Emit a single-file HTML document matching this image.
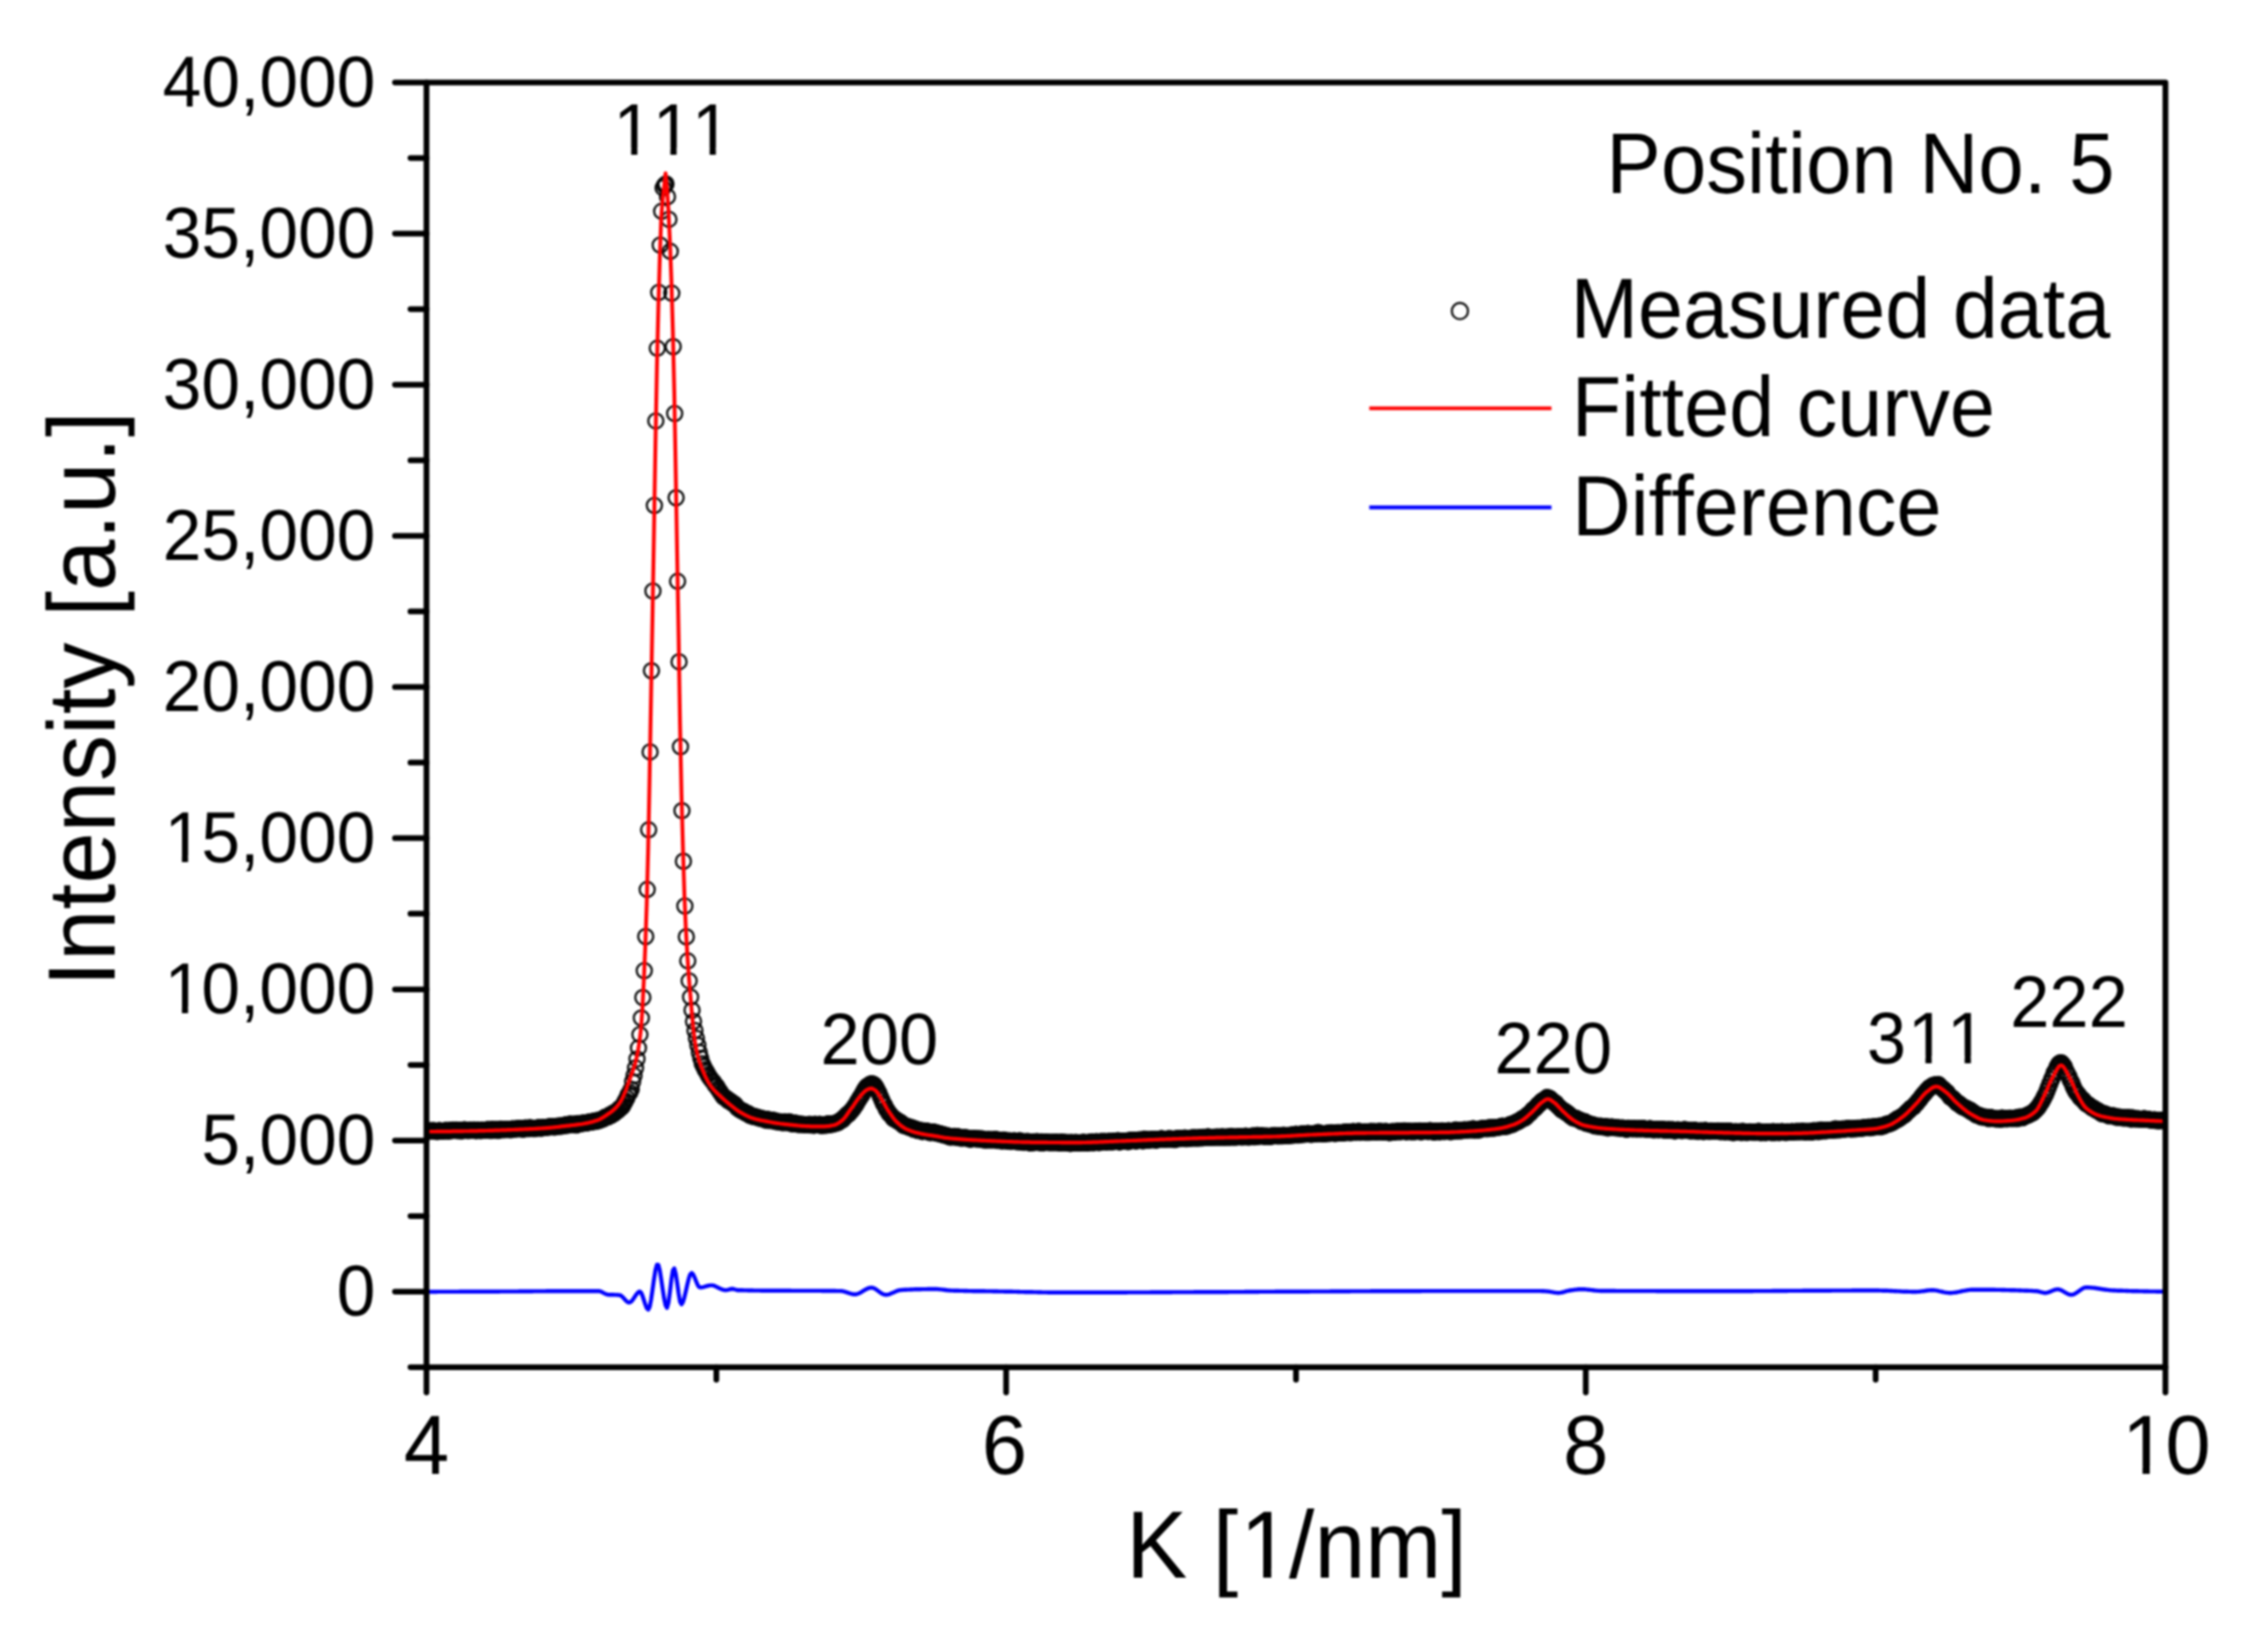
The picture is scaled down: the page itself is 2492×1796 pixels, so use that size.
<!DOCTYPE html>
<html lang="en"><head><meta charset="utf-8"><title>XRD pattern - Position No. 5</title>
<style>html,body{margin:0;padding:0;background:#fff}body{width:2492px;height:1796px;overflow:hidden}svg text{white-space:pre;text-rendering:geometricPrecision;font-kerning:none;font-feature-settings:"kern" 0,"liga" 0}</style>
</head><body>
<svg width="2492" height="1796" viewBox="0 0 2492 1796" style="display:block">
<rect width="2492" height="1796" fill="#fff"/>
<defs><clipPath id="cp"><rect x="468.6" y="90.6" width="1910.7000000000003" height="1411.2"/></clipPath><filter id="soft" x="0" y="0" width="2492" height="1796" filterUnits="userSpaceOnUse" color-interpolation-filters="sRGB"><feGaussianBlur stdDeviation="1"/></filter></defs>
<g filter="url(#soft)">
<rect width="2492" height="1796" fill="#fff"/>
<g clip-path="url(#cp)">
<polyline fill="none" stroke="#000" stroke-width="18.4" stroke-linejoin="round" points="469.1,1242.4 470.6,1242.5 472.2,1242.3 473.8,1242.0 475.4,1242.2 477.0,1242.0 478.6,1242.4 480.2,1242.9 481.8,1242.1 483.4,1242.0 485.0,1242.5 486.6,1242.4 488.2,1242.3 489.7,1241.8 491.3,1242.2 492.9,1242.4 494.5,1241.6 496.1,1241.9 497.7,1241.3 499.3,1241.6 500.9,1241.3 502.5,1241.9 504.1,1241.5 505.7,1242.1 507.3,1242.0 508.9,1241.8 510.4,1240.9 512.0,1241.6 513.6,1241.8 515.2,1241.8 516.8,1241.2 518.4,1241.5 520.0,1241.3 521.6,1241.3 523.2,1242.0 524.8,1241.3 526.4,1241.5 528.0,1241.9 529.6,1241.2 531.1,1241.4 532.7,1241.4 534.3,1241.3 535.9,1240.8 537.5,1241.2 539.1,1241.7 540.7,1240.5 542.3,1241.4 543.9,1241.0 545.5,1240.7 547.1,1241.7 548.7,1241.1 550.3,1240.3 551.8,1240.7 553.4,1240.9 555.0,1240.5 556.6,1240.8 558.2,1240.4 559.8,1240.7 561.4,1240.9 563.0,1240.0 564.6,1240.3 566.2,1240.0 567.8,1240.1 569.4,1239.6 571.0,1239.7 572.5,1239.8 574.1,1240.2 575.7,1240.2 577.3,1239.1 578.9,1239.3 580.5,1239.8 582.1,1238.7 583.7,1239.2 585.3,1239.2 586.9,1239.7 588.5,1239.4 590.1,1238.9 591.7,1238.8 593.2,1238.7 594.8,1239.3 596.4,1238.4 598.0,1238.4 599.6,1238.5 601.2,1238.2 602.8,1238.0 604.4,1237.5 606.0,1237.8 607.6,1237.5 609.2,1238.0 610.8,1237.6 612.4,1237.1 613.9,1237.2 615.5,1236.7 617.1,1237.0 618.7,1236.4 620.3,1236.5 621.9,1235.6 623.5,1236.1 625.1,1235.1 626.7,1234.8 628.3,1235.3 629.9,1234.9 631.5,1235.1 633.1,1235.7 634.6,1234.3 636.2,1234.2 637.8,1234.3 639.4,1234.1 641.0,1233.7 642.6,1233.5 644.2,1233.6 645.8,1233.3 647.4,1232.5 649.0,1232.6 650.6,1232.4 652.2,1231.6 653.8,1231.8 655.3,1230.9 656.9,1231.3 658.5,1230.6 660.1,1230.0 661.7,1229.2 663.3,1228.7 664.9,1227.3 666.5,1226.9 668.1,1226.7 669.7,1224.9 671.3,1225.3 672.9,1223.3 674.5,1223.3 676.0,1221.5 677.6,1220.9 679.2,1219.6 680.8,1217.5 682.4,1216.9 684.0,1215.0"/>
<polyline fill="none" stroke="#000" stroke-width="18.4" stroke-linejoin="round" points="793.9,1203.5 795.5,1205.3 797.1,1205.9 798.6,1207.0 800.2,1209.0 801.8,1209.2 803.4,1210.5 805.0,1212.0 806.6,1212.4 808.2,1214.0"/>
<polyline fill="none" stroke="#000" stroke-width="18.4" stroke-linejoin="round" points="809.8,1216.6 811.4,1217.9 813.0,1218.8 814.6,1219.9 816.2,1220.5 817.8,1221.2 819.3,1222.6 820.9,1223.1 822.5,1223.6 824.1,1225.2 825.7,1225.6 827.3,1226.4 828.9,1226.3 830.5,1226.9 832.1,1227.2 833.7,1227.7 835.3,1228.5 836.9,1228.4 838.5,1229.2 840.0,1229.6 841.6,1230.5 843.2,1229.5 844.8,1230.7 846.4,1230.6 848.0,1230.9 849.6,1230.6 851.2,1231.3 852.8,1232.0 854.4,1231.9 856.0,1232.2 857.6,1232.3 859.2,1233.1 860.7,1232.9 862.3,1232.2 863.9,1233.0 865.5,1232.7 867.1,1232.3 868.7,1233.6 870.3,1234.5 871.9,1234.2 873.5,1233.8 875.1,1234.1 876.7,1235.1 878.3,1234.9 879.9,1235.0 881.4,1235.1 883.0,1235.2 884.6,1235.6 886.2,1235.6 887.8,1235.6 889.4,1235.1 891.0,1235.8 892.6,1235.3 894.2,1236.1 895.8,1235.1 897.4,1235.6 899.0,1235.6 900.5,1235.1 902.1,1236.3 903.7,1236.2 905.3,1235.5 906.9,1236.0 908.5,1235.7 910.1,1234.4 911.7,1235.4 913.3,1235.0 914.9,1234.8 916.5,1234.0 918.1,1233.9 919.7,1233.3 921.2,1232.9 922.8,1231.5 924.4,1230.2 926.0,1229.8 927.6,1227.7 929.2,1226.3"/>
<polyline fill="none" stroke="#000" stroke-width="18.4" stroke-linejoin="round" points="930.8,1224.1 932.4,1223.7 934.0,1221.7 935.6,1220.0 937.2,1218.1"/>
<polyline fill="none" stroke="#000" stroke-width="18.4" stroke-linejoin="round" points="951.5,1194.7 953.1,1193.0 954.7,1192.4 956.3,1190.9 957.9,1190.4 959.5,1191.0 961.1,1192.2"/>
<polyline fill="none" stroke="#000" stroke-width="18.4" stroke-linejoin="round" points="980.2,1226.8 981.8,1228.7 983.3,1229.3 984.9,1230.3 986.5,1231.5 988.1,1232.4 989.7,1233.1 991.3,1234.8 992.9,1236.4 994.5,1236.4 996.1,1237.2 997.7,1237.5 999.3,1238.6 1000.9,1238.5 1002.5,1239.1 1004.0,1240.5 1005.6,1240.0 1007.2,1241.2 1008.8,1241.8 1010.4,1241.6 1012.0,1242.1 1013.6,1242.9 1015.2,1242.3 1016.8,1242.4 1018.4,1242.4 1020.0,1243.2 1021.6,1244.0 1023.2,1244.0 1024.7,1243.5 1026.3,1243.7 1027.9,1244.1 1029.5,1244.7 1031.1,1244.9 1032.7,1245.4 1034.3,1245.9 1035.9,1246.2 1037.5,1246.8 1039.1,1247.3 1040.7,1247.6 1042.3,1248.2 1043.9,1249.0 1045.4,1248.7 1047.0,1248.7 1048.6,1248.2 1050.2,1249.2 1051.8,1248.5 1053.4,1248.9 1055.0,1249.9 1056.6,1250.0 1058.2,1249.9 1059.8,1249.4 1061.4,1250.1 1063.0,1250.1 1064.6,1250.7 1066.1,1251.5 1067.7,1250.8 1069.3,1250.5 1070.9,1250.5 1072.5,1251.0 1074.1,1251.1 1075.7,1250.8 1077.3,1251.4 1078.9,1251.0 1080.5,1252.0 1082.1,1252.1 1083.7,1252.2 1085.3,1251.7 1086.8,1252.1 1088.4,1252.0 1090.0,1252.0 1091.6,1252.1 1093.2,1251.8 1094.8,1251.8 1096.4,1252.8 1098.0,1252.5 1099.6,1252.8 1101.2,1253.2 1102.8,1252.2 1104.4,1252.7 1106.0,1253.2 1107.5,1253.3 1109.1,1253.1 1110.7,1253.8 1112.3,1253.5 1113.9,1253.1 1115.5,1253.3 1117.1,1254.0 1118.7,1254.0 1120.3,1253.1 1121.9,1254.5 1123.5,1254.3 1125.1,1254.7 1126.6,1254.1 1128.2,1254.2 1129.8,1253.9 1131.4,1255.4 1133.0,1254.4 1134.6,1255.2 1136.2,1254.3 1137.8,1254.7 1139.4,1254.0 1141.0,1254.6 1142.6,1255.2 1144.2,1254.3 1145.8,1255.3 1147.3,1255.0 1148.9,1254.5 1150.5,1254.8 1152.1,1254.8 1153.7,1255.0 1155.3,1254.9 1156.9,1254.8 1158.5,1255.0 1160.1,1254.8 1161.7,1254.7 1163.3,1255.2 1164.9,1255.6 1166.5,1254.6 1168.0,1255.3 1169.6,1255.0 1171.2,1254.9 1172.8,1255.6 1174.4,1255.1 1176.0,1255.9 1177.6,1255.0 1179.2,1255.4 1180.8,1255.2 1182.4,1255.0 1184.0,1255.5 1185.6,1255.2 1187.2,1255.5 1188.7,1255.2 1190.3,1254.8 1191.9,1255.2 1193.5,1255.2 1195.1,1255.5 1196.7,1254.7 1198.3,1255.0 1199.9,1254.3 1201.5,1255.2 1203.1,1254.4 1204.7,1254.1 1206.3,1254.7 1207.9,1255.1 1209.4,1254.0 1211.0,1254.1 1212.6,1254.1 1214.2,1253.9 1215.8,1254.4 1217.4,1253.9 1219.0,1253.8 1220.6,1254.3 1222.2,1253.7 1223.8,1254.1 1225.4,1253.4 1227.0,1253.3 1228.6,1252.9 1230.1,1254.4 1231.7,1253.4 1233.3,1253.6 1234.9,1253.4 1236.5,1253.4 1238.1,1253.3 1239.7,1254.0 1241.3,1252.7 1242.9,1252.5 1244.5,1252.6 1246.1,1252.4 1247.7,1253.2 1249.3,1253.1 1250.8,1252.3 1252.4,1252.1 1254.0,1252.4 1255.6,1253.1 1257.2,1251.3 1258.8,1252.6 1260.4,1251.8 1262.0,1252.6 1263.6,1251.7 1265.2,1252.0 1266.8,1251.4 1268.4,1251.5 1270.0,1252.4 1271.5,1252.1 1273.1,1251.6 1274.7,1251.3 1276.3,1250.8 1277.9,1251.4 1279.5,1251.4 1281.1,1251.4 1282.7,1251.3 1284.3,1250.8 1285.9,1251.2 1287.5,1251.1 1289.1,1251.6 1290.7,1251.7 1292.2,1250.9 1293.8,1250.6 1295.4,1250.8 1297.0,1250.5 1298.6,1250.4 1300.2,1250.6 1301.8,1250.1 1303.4,1250.7 1305.0,1250.4 1306.6,1250.5 1308.2,1250.2 1309.8,1250.0 1311.4,1249.8 1312.9,1250.0 1314.5,1249.9 1316.1,1250.1 1317.7,1250.0 1319.3,1249.4 1320.9,1249.9 1322.5,1249.3 1324.1,1249.5 1325.7,1249.6 1327.3,1248.8 1328.9,1249.6 1330.5,1249.6 1332.0,1249.4 1333.6,1249.3 1335.2,1249.3 1336.8,1249.0 1338.4,1249.2 1340.0,1249.1 1341.6,1249.3 1343.2,1248.7 1344.8,1249.2 1346.4,1249.2 1348.0,1249.0 1349.6,1248.9 1351.2,1249.2 1352.7,1248.3 1354.3,1249.1 1355.9,1249.0 1357.5,1248.9 1359.1,1248.9 1360.7,1248.5 1362.3,1248.6 1363.9,1248.9 1365.5,1248.8 1367.1,1248.7 1368.7,1247.9 1370.3,1248.7 1371.9,1248.9 1373.4,1248.8 1375.0,1248.5 1376.6,1247.7 1378.2,1248.7 1379.8,1248.2 1381.4,1247.2 1383.0,1248.3 1384.6,1247.6 1386.2,1247.6 1387.8,1247.8 1389.4,1248.6 1391.0,1247.9 1392.6,1248.1 1394.1,1248.6 1395.7,1248.5 1397.3,1247.8 1398.9,1247.7 1400.5,1247.2 1402.1,1247.4 1403.7,1247.8 1405.3,1247.7 1406.9,1247.6 1408.5,1247.8 1410.1,1247.1 1411.7,1247.3 1413.3,1247.5 1414.8,1247.3 1416.4,1247.4 1418.0,1247.1 1419.6,1246.7 1421.2,1246.9 1422.8,1246.2 1424.4,1245.9 1426.0,1246.7 1427.6,1246.3 1429.2,1246.4 1430.8,1245.5 1432.4,1245.9 1434.0,1245.7 1435.5,1245.5 1437.1,1244.9 1438.7,1245.5 1440.3,1246.0 1441.9,1245.7 1443.5,1245.2 1445.1,1245.3 1446.7,1245.6 1448.3,1244.1 1449.9,1245.1 1451.5,1245.3 1453.1,1245.3 1454.7,1245.6 1456.2,1245.3 1457.8,1244.9 1459.4,1244.8 1461.0,1244.9 1462.6,1244.3 1464.2,1244.5 1465.8,1244.8 1467.4,1245.1 1469.0,1244.2 1470.6,1244.2 1472.2,1244.2 1473.8,1244.6 1475.4,1244.0 1476.9,1244.5 1478.5,1243.5 1480.1,1243.7 1481.7,1243.7 1483.3,1244.0 1484.9,1244.1 1486.5,1243.0 1488.1,1243.2 1489.7,1243.7 1491.3,1243.2 1492.9,1242.8 1494.5,1243.8 1496.1,1243.6 1497.6,1243.6 1499.2,1243.2 1500.8,1243.7 1502.4,1243.2 1504.0,1243.7 1505.6,1242.9 1507.2,1242.9 1508.8,1243.3 1510.4,1242.9 1512.0,1243.5 1513.6,1243.3 1515.2,1242.8 1516.8,1243.2 1518.3,1243.0 1519.9,1243.5 1521.5,1242.9 1523.1,1242.9 1524.7,1243.6 1526.3,1244.0 1527.9,1243.9 1529.5,1243.1 1531.1,1243.1 1532.7,1243.6 1534.3,1242.9 1535.9,1242.6 1537.4,1243.0 1539.0,1243.1 1540.6,1242.6 1542.2,1242.3 1543.8,1242.3 1545.4,1243.2 1547.0,1242.6 1548.6,1242.8 1550.2,1242.9 1551.8,1243.1 1553.4,1242.7 1555.0,1243.0 1556.6,1242.4 1558.1,1242.6 1559.7,1242.3 1561.3,1243.2 1562.9,1242.7 1564.5,1242.4 1566.1,1242.5 1567.7,1242.6 1569.3,1242.9 1570.9,1242.0 1572.5,1242.2 1574.1,1242.4 1575.7,1243.6 1577.3,1242.9 1578.8,1242.5 1580.4,1242.8 1582.0,1243.3 1583.6,1242.3 1585.2,1242.3 1586.8,1242.9 1588.4,1242.5 1590.0,1242.6 1591.6,1242.1 1593.2,1243.0 1594.8,1242.9 1596.4,1242.4 1598.0,1242.4 1599.5,1241.2 1601.1,1242.2 1602.7,1241.8 1604.3,1242.0 1605.9,1242.0 1607.5,1241.5 1609.1,1240.9 1610.7,1241.6 1612.3,1241.1 1613.9,1241.1 1615.5,1240.9 1617.1,1240.9 1618.7,1240.0 1620.2,1241.4 1621.8,1240.9 1623.4,1241.1 1625.0,1241.3 1626.6,1240.4 1628.2,1239.6 1629.8,1239.8 1631.4,1239.5 1633.0,1239.7 1634.6,1239.8 1636.2,1238.8 1637.8,1239.5 1639.4,1238.6 1640.9,1239.2 1642.5,1238.8 1644.1,1238.5 1645.7,1238.4 1647.3,1238.0 1648.9,1237.7 1650.5,1236.9 1652.1,1237.3 1653.7,1237.6 1655.3,1237.3 1656.9,1236.6 1658.5,1235.9 1660.1,1234.9 1661.6,1235.2 1663.2,1234.1 1664.8,1233.4 1666.4,1232.6 1668.0,1232.0 1669.6,1230.9 1671.2,1230.1 1672.8,1228.8 1674.4,1228.0 1676.0,1227.9"/>
<polyline fill="none" stroke="#000" stroke-width="18.4" stroke-linejoin="round" points="1677.6,1225.7 1679.2,1224.2 1680.8,1223.1 1682.3,1221.6"/>
<polyline fill="none" stroke="#000" stroke-width="18.4" stroke-linejoin="round" points="1683.9,1219.4 1685.5,1218.3 1687.1,1217.1 1688.7,1215.1 1690.3,1213.3 1691.9,1212.3"/>
<polyline fill="none" stroke="#000" stroke-width="18.4" stroke-linejoin="round" points="1693.5,1210.1 1695.1,1209.3 1696.7,1207.9 1698.3,1207.7 1699.9,1205.6 1701.5,1206.0 1703.0,1206.7 1704.6,1208.3 1706.2,1209.7 1707.8,1211.6 1709.4,1211.8"/>
<polyline fill="none" stroke="#000" stroke-width="18.4" stroke-linejoin="round" points="1711.0,1214.4 1712.6,1215.7 1714.2,1217.2 1715.8,1219.1 1717.4,1219.8 1719.0,1220.4 1720.6,1222.1 1722.2,1222.7 1723.7,1224.1 1725.3,1225.6 1726.9,1226.6 1728.5,1228.1 1730.1,1228.1 1731.7,1228.4 1733.3,1229.4 1734.9,1230.1 1736.5,1230.7 1738.1,1232.0 1739.7,1232.1 1741.3,1232.1 1742.9,1233.7 1744.4,1233.9 1746.0,1234.5 1747.6,1234.9 1749.2,1235.5 1750.8,1235.7 1752.4,1236.7 1754.0,1236.7 1755.6,1237.1 1757.2,1237.4 1758.8,1236.9 1760.4,1237.7 1762.0,1237.8 1763.5,1238.1 1765.1,1237.6 1766.7,1239.0 1768.3,1238.5 1769.9,1238.1 1771.5,1238.0 1773.1,1238.6 1774.7,1238.8 1776.3,1238.7 1777.9,1239.1 1779.5,1238.9 1781.1,1239.4 1782.7,1239.0 1784.2,1239.4 1785.8,1239.9 1787.4,1240.6 1789.0,1239.2 1790.6,1239.5 1792.2,1239.4 1793.8,1240.1 1795.4,1239.4 1797.0,1239.8 1798.6,1240.0 1800.2,1239.7 1801.8,1239.8 1803.4,1240.0 1804.9,1239.4 1806.5,1239.7 1808.1,1240.2 1809.7,1240.5 1811.3,1240.4 1812.9,1239.8 1814.5,1240.4 1816.1,1240.9 1817.7,1240.9 1819.3,1240.7 1820.9,1240.4 1822.5,1241.0 1824.1,1240.6 1825.6,1240.4 1827.2,1240.6 1828.8,1241.5 1830.4,1241.0 1832.0,1241.5 1833.6,1240.8 1835.2,1241.4 1836.8,1240.9 1838.4,1241.1 1840.0,1242.2 1841.6,1241.5 1843.2,1241.1 1844.8,1241.3 1846.3,1241.5 1847.9,1241.9 1849.5,1241.2 1851.1,1240.8 1852.7,1241.4 1854.3,1241.6 1855.9,1241.7 1857.5,1242.2 1859.1,1241.8 1860.7,1242.1 1862.3,1241.4 1863.9,1242.2 1865.5,1242.8 1867.0,1242.3 1868.6,1242.1 1870.2,1242.2 1871.8,1242.9 1873.4,1241.8 1875.0,1242.2 1876.6,1242.5 1878.2,1242.7 1879.8,1242.3 1881.4,1242.6 1883.0,1242.4 1884.6,1242.6 1886.2,1242.6 1887.7,1242.2 1889.3,1242.7 1890.9,1243.1 1892.5,1242.4 1894.1,1242.8 1895.7,1243.2 1897.3,1242.5 1898.9,1243.1 1900.5,1242.6 1902.1,1243.5 1903.7,1244.0 1905.3,1243.9 1906.9,1243.1 1908.4,1243.5 1910.0,1243.3 1911.6,1243.3 1913.2,1243.9 1914.8,1242.8 1916.4,1243.8 1918.0,1243.4 1919.6,1244.0 1921.2,1243.5 1922.8,1243.2 1924.4,1243.6 1926.0,1243.8 1927.6,1243.6 1929.1,1243.8 1930.7,1243.4 1932.3,1242.8 1933.9,1244.0 1935.5,1243.9 1937.1,1243.7 1938.7,1243.7 1940.3,1244.1 1941.9,1243.5 1943.5,1243.4 1945.1,1243.6 1946.7,1244.1 1948.3,1243.1 1949.8,1244.1 1951.4,1243.4 1953.0,1243.2 1954.6,1244.1 1956.2,1243.5 1957.8,1243.0 1959.4,1243.4 1961.0,1243.8 1962.6,1243.9 1964.2,1243.2 1965.8,1243.5 1967.4,1243.6 1968.9,1243.0 1970.5,1243.4 1972.1,1243.2 1973.7,1243.0 1975.3,1243.0 1976.9,1243.1 1978.5,1243.1 1980.1,1242.8 1981.7,1242.8 1983.3,1243.4 1984.9,1242.9 1986.5,1243.1 1988.1,1243.2 1989.6,1242.8 1991.2,1243.4 1992.8,1242.1 1994.4,1242.7 1996.0,1242.1 1997.6,1242.9 1999.2,1242.7 2000.8,1241.2 2002.4,1241.5 2004.0,1242.0 2005.6,1242.0 2007.2,1241.8 2008.8,1241.4 2010.3,1241.5 2011.9,1241.5 2013.5,1241.1 2015.1,1241.5 2016.7,1240.1 2018.3,1241.1 2019.9,1240.3 2021.5,1241.0 2023.1,1240.5 2024.7,1240.1 2026.3,1240.5 2027.9,1239.9 2029.5,1239.8 2031.0,1239.4 2032.6,1239.9 2034.2,1240.0 2035.8,1240.1 2037.4,1239.5 2039.0,1239.9 2040.6,1239.3 2042.2,1239.2 2043.8,1239.3 2045.4,1239.4 2047.0,1238.8 2048.6,1238.7 2050.2,1238.6 2051.7,1238.6 2053.3,1238.1 2054.9,1238.8 2056.5,1238.0 2058.1,1238.2 2059.7,1237.6 2061.3,1237.8 2062.9,1237.6 2064.5,1237.0 2066.1,1237.7 2067.7,1236.7 2069.3,1236.9 2070.9,1236.2 2072.4,1235.1 2074.0,1234.8 2075.6,1234.6 2077.2,1233.9 2078.8,1233.2 2080.4,1232.3 2082.0,1230.9 2083.6,1230.6 2085.2,1228.8 2086.8,1228.8 2088.4,1227.3 2090.0,1226.3 2091.6,1225.3 2093.1,1224.3 2094.7,1222.3 2096.3,1220.7 2097.9,1219.5 2099.5,1217.5 2101.1,1216.4 2102.7,1215.8"/>
<polyline fill="none" stroke="#000" stroke-width="18.4" stroke-linejoin="round" points="2110.7,1205.7 2112.3,1203.6 2113.8,1201.8 2115.4,1200.3"/>
<polyline fill="none" stroke="#000" stroke-width="18.4" stroke-linejoin="round" points="2117.0,1198.0 2118.6,1196.6 2120.2,1194.7 2121.8,1194.0 2123.4,1192.6 2125.0,1192.2 2126.6,1191.5 2128.2,1192.2 2129.8,1191.3 2131.4,1193.0 2133.0,1194.8 2134.5,1195.8 2136.1,1197.2 2137.7,1198.9 2139.3,1199.9 2140.9,1202.1"/>
<polyline fill="none" stroke="#000" stroke-width="18.4" stroke-linejoin="round" points="2142.5,1204.7 2144.1,1205.8 2145.7,1206.6 2147.3,1208.2 2148.9,1209.9 2150.5,1211.7 2152.1,1212.1 2153.7,1213.3 2155.2,1215.0 2156.8,1216.0 2158.4,1216.6 2160.0,1217.3 2161.6,1218.0 2163.2,1219.3 2164.8,1219.5 2166.4,1221.5 2168.0,1221.8 2169.6,1223.1 2171.2,1224.6 2172.8,1225.1 2174.3,1224.9 2175.9,1226.4 2177.5,1227.1 2179.1,1226.8 2180.7,1227.0 2182.3,1227.6 2183.9,1227.3 2185.5,1228.7 2187.1,1227.4 2188.7,1228.1 2190.3,1228.6 2191.9,1228.8 2193.5,1229.0 2195.0,1229.1 2196.6,1228.9 2198.2,1229.5 2199.8,1228.1 2201.4,1228.9 2203.0,1228.6 2204.6,1228.9 2206.2,1228.8 2207.8,1228.3 2209.4,1228.3 2211.0,1228.8 2212.6,1228.5 2214.2,1227.9 2215.7,1228.8 2217.3,1228.6 2218.9,1226.9 2220.5,1227.3 2222.1,1227.8 2223.7,1226.7 2225.3,1226.1 2226.9,1225.4 2228.5,1224.7 2230.1,1224.0 2231.7,1223.0 2233.3,1222.5 2234.9,1220.9 2236.4,1219.6 2238.0,1217.8 2239.6,1216.3"/>
<polyline fill="none" stroke="#000" stroke-width="18.4" stroke-linejoin="round" points="2261.9,1168.9 2263.5,1167.6 2265.1,1167.6 2266.7,1169.4"/>
<polyline fill="none" stroke="#000" stroke-width="18.4" stroke-linejoin="round" points="2285.8,1205.9 2287.4,1207.0 2289.0,1208.5 2290.6,1210.4 2292.2,1212.4 2293.8,1213.3 2295.4,1214.1 2297.0,1215.4 2298.5,1216.7 2300.1,1217.3 2301.7,1218.2 2303.3,1219.6 2304.9,1220.0 2306.5,1221.2 2308.1,1222.0 2309.7,1223.5 2311.3,1222.9 2312.9,1223.7 2314.5,1224.3 2316.1,1225.0 2317.7,1225.8 2319.2,1225.6 2320.8,1225.8 2322.4,1225.8 2324.0,1226.4 2325.6,1227.2 2327.2,1227.2 2328.8,1227.0 2330.4,1227.4 2332.0,1227.8 2333.6,1228.1 2335.2,1227.8 2336.8,1228.1 2338.4,1227.6 2339.9,1228.0 2341.5,1229.3 2343.1,1227.9 2344.7,1228.7 2346.3,1229.1 2347.9,1228.9 2349.5,1228.9 2351.1,1229.3 2352.7,1229.4 2354.3,1229.5 2355.9,1228.8 2357.5,1229.6 2359.1,1229.4 2360.6,1229.6 2362.2,1230.1 2363.8,1230.3 2365.4,1230.5 2367.0,1230.0 2368.6,1230.7 2370.2,1230.9 2371.8,1230.9 2373.4,1231.1 2375.0,1230.5 2376.6,1230.6 2378.2,1231.1 2379.8,1230.3"/>
<g fill="none" stroke="#050505" stroke-width="2.4">
<circle cx="469.1" cy="1242.4" r="8.3"/>
<circle cx="470.6" cy="1242.5" r="8.3"/>
<circle cx="472.2" cy="1242.3" r="8.3"/>
<circle cx="473.8" cy="1242.0" r="8.3"/>
<circle cx="475.4" cy="1242.2" r="8.3"/>
<circle cx="477.0" cy="1242.0" r="8.3"/>
<circle cx="478.6" cy="1242.4" r="8.3"/>
<circle cx="480.2" cy="1242.9" r="8.3"/>
<circle cx="481.8" cy="1242.1" r="8.3"/>
<circle cx="483.4" cy="1242.0" r="8.3"/>
<circle cx="485.0" cy="1242.5" r="8.3"/>
<circle cx="486.6" cy="1242.4" r="8.3"/>
<circle cx="488.2" cy="1242.3" r="8.3"/>
<circle cx="489.7" cy="1241.8" r="8.3"/>
<circle cx="491.3" cy="1242.2" r="8.3"/>
<circle cx="492.9" cy="1242.4" r="8.3"/>
<circle cx="494.5" cy="1241.6" r="8.3"/>
<circle cx="496.1" cy="1241.9" r="8.3"/>
<circle cx="497.7" cy="1241.3" r="8.3"/>
<circle cx="499.3" cy="1241.6" r="8.3"/>
<circle cx="500.9" cy="1241.3" r="8.3"/>
<circle cx="502.5" cy="1241.9" r="8.3"/>
<circle cx="504.1" cy="1241.5" r="8.3"/>
<circle cx="505.7" cy="1242.1" r="8.3"/>
<circle cx="507.3" cy="1242.0" r="8.3"/>
<circle cx="508.9" cy="1241.8" r="8.3"/>
<circle cx="510.4" cy="1240.9" r="8.3"/>
<circle cx="512.0" cy="1241.6" r="8.3"/>
<circle cx="513.6" cy="1241.8" r="8.3"/>
<circle cx="515.2" cy="1241.8" r="8.3"/>
<circle cx="516.8" cy="1241.2" r="8.3"/>
<circle cx="518.4" cy="1241.5" r="8.3"/>
<circle cx="520.0" cy="1241.3" r="8.3"/>
<circle cx="521.6" cy="1241.3" r="8.3"/>
<circle cx="523.2" cy="1242.0" r="8.3"/>
<circle cx="524.8" cy="1241.3" r="8.3"/>
<circle cx="526.4" cy="1241.5" r="8.3"/>
<circle cx="528.0" cy="1241.9" r="8.3"/>
<circle cx="529.6" cy="1241.2" r="8.3"/>
<circle cx="531.1" cy="1241.4" r="8.3"/>
<circle cx="532.7" cy="1241.4" r="8.3"/>
<circle cx="534.3" cy="1241.3" r="8.3"/>
<circle cx="535.9" cy="1240.8" r="8.3"/>
<circle cx="537.5" cy="1241.2" r="8.3"/>
<circle cx="539.1" cy="1241.7" r="8.3"/>
<circle cx="540.7" cy="1240.5" r="8.3"/>
<circle cx="542.3" cy="1241.4" r="8.3"/>
<circle cx="543.9" cy="1241.0" r="8.3"/>
<circle cx="545.5" cy="1240.7" r="8.3"/>
<circle cx="547.1" cy="1241.7" r="8.3"/>
<circle cx="548.7" cy="1241.1" r="8.3"/>
<circle cx="550.3" cy="1240.3" r="8.3"/>
<circle cx="551.8" cy="1240.7" r="8.3"/>
<circle cx="553.4" cy="1240.9" r="8.3"/>
<circle cx="555.0" cy="1240.5" r="8.3"/>
<circle cx="556.6" cy="1240.8" r="8.3"/>
<circle cx="558.2" cy="1240.4" r="8.3"/>
<circle cx="559.8" cy="1240.7" r="8.3"/>
<circle cx="561.4" cy="1240.9" r="8.3"/>
<circle cx="563.0" cy="1240.0" r="8.3"/>
<circle cx="564.6" cy="1240.3" r="8.3"/>
<circle cx="566.2" cy="1240.0" r="8.3"/>
<circle cx="567.8" cy="1240.1" r="8.3"/>
<circle cx="569.4" cy="1239.6" r="8.3"/>
<circle cx="571.0" cy="1239.7" r="8.3"/>
<circle cx="572.5" cy="1239.8" r="8.3"/>
<circle cx="574.1" cy="1240.2" r="8.3"/>
<circle cx="575.7" cy="1240.2" r="8.3"/>
<circle cx="577.3" cy="1239.1" r="8.3"/>
<circle cx="578.9" cy="1239.3" r="8.3"/>
<circle cx="580.5" cy="1239.8" r="8.3"/>
<circle cx="582.1" cy="1238.7" r="8.3"/>
<circle cx="583.7" cy="1239.2" r="8.3"/>
<circle cx="585.3" cy="1239.2" r="8.3"/>
<circle cx="586.9" cy="1239.7" r="8.3"/>
<circle cx="588.5" cy="1239.4" r="8.3"/>
<circle cx="590.1" cy="1238.9" r="8.3"/>
<circle cx="591.7" cy="1238.8" r="8.3"/>
<circle cx="593.2" cy="1238.7" r="8.3"/>
<circle cx="594.8" cy="1239.3" r="8.3"/>
<circle cx="596.4" cy="1238.4" r="8.3"/>
<circle cx="598.0" cy="1238.4" r="8.3"/>
<circle cx="599.6" cy="1238.5" r="8.3"/>
<circle cx="601.2" cy="1238.2" r="8.3"/>
<circle cx="602.8" cy="1238.0" r="8.3"/>
<circle cx="604.4" cy="1237.5" r="8.3"/>
<circle cx="606.0" cy="1237.8" r="8.3"/>
<circle cx="607.6" cy="1237.5" r="8.3"/>
<circle cx="609.2" cy="1238.0" r="8.3"/>
<circle cx="610.8" cy="1237.6" r="8.3"/>
<circle cx="612.4" cy="1237.1" r="8.3"/>
<circle cx="613.9" cy="1237.2" r="8.3"/>
<circle cx="615.5" cy="1236.7" r="8.3"/>
<circle cx="617.1" cy="1237.0" r="8.3"/>
<circle cx="618.7" cy="1236.4" r="8.3"/>
<circle cx="620.3" cy="1236.5" r="8.3"/>
<circle cx="621.9" cy="1235.6" r="8.3"/>
<circle cx="623.5" cy="1236.1" r="8.3"/>
<circle cx="625.1" cy="1235.1" r="8.3"/>
<circle cx="626.7" cy="1234.8" r="8.3"/>
<circle cx="628.3" cy="1235.3" r="8.3"/>
<circle cx="629.9" cy="1234.9" r="8.3"/>
<circle cx="631.5" cy="1235.1" r="8.3"/>
<circle cx="633.1" cy="1235.7" r="8.3"/>
<circle cx="634.6" cy="1234.3" r="8.3"/>
<circle cx="636.2" cy="1234.2" r="8.3"/>
<circle cx="637.8" cy="1234.3" r="8.3"/>
<circle cx="639.4" cy="1234.1" r="8.3"/>
<circle cx="641.0" cy="1233.7" r="8.3"/>
<circle cx="642.6" cy="1233.5" r="8.3"/>
<circle cx="644.2" cy="1233.6" r="8.3"/>
<circle cx="645.8" cy="1233.3" r="8.3"/>
<circle cx="647.4" cy="1232.5" r="8.3"/>
<circle cx="649.0" cy="1232.6" r="8.3"/>
<circle cx="650.6" cy="1232.4" r="8.3"/>
<circle cx="652.2" cy="1231.6" r="8.3"/>
<circle cx="653.8" cy="1231.8" r="8.3"/>
<circle cx="655.3" cy="1230.9" r="8.3"/>
<circle cx="656.9" cy="1231.3" r="8.3"/>
<circle cx="658.5" cy="1230.6" r="8.3"/>
<circle cx="660.1" cy="1230.0" r="8.3"/>
<circle cx="661.7" cy="1229.2" r="8.3"/>
<circle cx="663.3" cy="1228.7" r="8.3"/>
<circle cx="664.9" cy="1227.3" r="8.3"/>
<circle cx="666.5" cy="1226.9" r="8.3"/>
<circle cx="668.1" cy="1226.7" r="8.3"/>
<circle cx="669.7" cy="1224.9" r="8.3"/>
<circle cx="671.3" cy="1225.3" r="8.3"/>
<circle cx="672.9" cy="1223.3" r="8.3"/>
<circle cx="674.5" cy="1223.3" r="8.3"/>
<circle cx="676.0" cy="1221.5" r="8.3"/>
<circle cx="677.6" cy="1220.9" r="8.3"/>
<circle cx="679.2" cy="1219.6" r="8.3"/>
<circle cx="680.8" cy="1217.5" r="8.3"/>
<circle cx="682.4" cy="1216.9" r="8.3"/>
<circle cx="684.0" cy="1215.0" r="8.3"/>
<circle cx="685.6" cy="1212.0" r="8.3"/>
<circle cx="687.2" cy="1209.0" r="8.3"/>
<circle cx="688.8" cy="1206.0" r="8.3"/>
<circle cx="690.4" cy="1202.1" r="8.3"/>
<circle cx="692.0" cy="1199.9" r="8.3"/>
<circle cx="693.6" cy="1196.5" r="8.3"/>
<circle cx="695.1" cy="1188.3" r="8.3"/>
<circle cx="696.7" cy="1181.4" r="8.3"/>
<circle cx="698.3" cy="1173.1" r="8.3"/>
<circle cx="699.9" cy="1163.3" r="8.3"/>
<circle cx="701.5" cy="1151.1" r="8.3"/>
<circle cx="703.1" cy="1136.4" r="8.3"/>
<circle cx="704.7" cy="1118.3" r="8.3"/>
<circle cx="706.3" cy="1095.8" r="8.3"/>
<circle cx="707.9" cy="1066.2" r="8.3"/>
<circle cx="709.5" cy="1028.8" r="8.3"/>
<circle cx="711.1" cy="977.1" r="8.3"/>
<circle cx="712.7" cy="911.6" r="8.3"/>
<circle cx="714.3" cy="825.9" r="8.3"/>
<circle cx="715.8" cy="736.8" r="8.3"/>
<circle cx="717.4" cy="649.2" r="8.3"/>
<circle cx="719.0" cy="555.2" r="8.3"/>
<circle cx="720.6" cy="462.4" r="8.3"/>
<circle cx="722.2" cy="382.6" r="8.3"/>
<circle cx="723.8" cy="321.2" r="8.3"/>
<circle cx="725.4" cy="269.2" r="8.3"/>
<circle cx="727.0" cy="232.1" r="8.3"/>
<circle cx="728.6" cy="206.4" r="8.3"/>
<circle cx="730.2" cy="203.5" r="8.3"/>
<circle cx="731.8" cy="202.0" r="8.3"/>
<circle cx="733.4" cy="216.0" r="8.3"/>
<circle cx="735.0" cy="240.9" r="8.3"/>
<circle cx="736.5" cy="276.1" r="8.3"/>
<circle cx="738.1" cy="322.1" r="8.3"/>
<circle cx="739.7" cy="380.8" r="8.3"/>
<circle cx="741.3" cy="454.2" r="8.3"/>
<circle cx="742.9" cy="546.8" r="8.3"/>
<circle cx="744.5" cy="638.6" r="8.3"/>
<circle cx="746.1" cy="726.9" r="8.3"/>
<circle cx="747.7" cy="820.2" r="8.3"/>
<circle cx="749.3" cy="890.5" r="8.3"/>
<circle cx="750.9" cy="946.0" r="8.3"/>
<circle cx="752.5" cy="995.2" r="8.3"/>
<circle cx="754.1" cy="1029.0" r="8.3"/>
<circle cx="755.7" cy="1055.6" r="8.3"/>
<circle cx="757.2" cy="1077.4" r="8.3"/>
<circle cx="758.8" cy="1095.3" r="8.3"/>
<circle cx="760.4" cy="1109.7" r="8.3"/>
<circle cx="762.0" cy="1122.0" r="8.3"/>
<circle cx="763.6" cy="1132.0" r="8.3"/>
<circle cx="765.2" cy="1140.6" r="8.3"/>
<circle cx="766.8" cy="1148.3" r="8.3"/>
<circle cx="768.4" cy="1156.0" r="8.3"/>
<circle cx="770.0" cy="1162.6" r="8.3"/>
<circle cx="771.6" cy="1168.5" r="8.3"/>
<circle cx="773.2" cy="1171.7" r="8.3"/>
<circle cx="774.8" cy="1175.0" r="8.3"/>
<circle cx="776.4" cy="1177.5" r="8.3"/>
<circle cx="777.9" cy="1180.5" r="8.3"/>
<circle cx="779.5" cy="1183.0" r="8.3"/>
<circle cx="781.1" cy="1185.3" r="8.3"/>
<circle cx="782.7" cy="1187.4" r="8.3"/>
<circle cx="784.3" cy="1189.0" r="8.3"/>
<circle cx="785.9" cy="1192.1" r="8.3"/>
<circle cx="787.5" cy="1193.2" r="8.3"/>
<circle cx="789.1" cy="1196.4" r="8.3"/>
<circle cx="790.7" cy="1198.5" r="8.3"/>
<circle cx="792.3" cy="1200.9" r="8.3"/>
<circle cx="793.9" cy="1203.5" r="8.3"/>
<circle cx="795.5" cy="1205.3" r="8.3"/>
<circle cx="797.1" cy="1205.9" r="8.3"/>
<circle cx="798.6" cy="1207.0" r="8.3"/>
<circle cx="800.2" cy="1209.0" r="8.3"/>
<circle cx="801.8" cy="1209.2" r="8.3"/>
<circle cx="803.4" cy="1210.5" r="8.3"/>
<circle cx="805.0" cy="1212.0" r="8.3"/>
<circle cx="806.6" cy="1212.4" r="8.3"/>
<circle cx="808.2" cy="1214.0" r="8.3"/>
<circle cx="809.8" cy="1216.6" r="8.3"/>
<circle cx="811.4" cy="1217.9" r="8.3"/>
<circle cx="813.0" cy="1218.8" r="8.3"/>
<circle cx="814.6" cy="1219.9" r="8.3"/>
<circle cx="816.2" cy="1220.5" r="8.3"/>
<circle cx="817.8" cy="1221.2" r="8.3"/>
<circle cx="819.3" cy="1222.6" r="8.3"/>
<circle cx="820.9" cy="1223.1" r="8.3"/>
<circle cx="822.5" cy="1223.6" r="8.3"/>
<circle cx="824.1" cy="1225.2" r="8.3"/>
<circle cx="825.7" cy="1225.6" r="8.3"/>
<circle cx="827.3" cy="1226.4" r="8.3"/>
<circle cx="828.9" cy="1226.3" r="8.3"/>
<circle cx="830.5" cy="1226.9" r="8.3"/>
<circle cx="832.1" cy="1227.2" r="8.3"/>
<circle cx="833.7" cy="1227.7" r="8.3"/>
<circle cx="835.3" cy="1228.5" r="8.3"/>
<circle cx="836.9" cy="1228.4" r="8.3"/>
<circle cx="838.5" cy="1229.2" r="8.3"/>
<circle cx="840.0" cy="1229.6" r="8.3"/>
<circle cx="841.6" cy="1230.5" r="8.3"/>
<circle cx="843.2" cy="1229.5" r="8.3"/>
<circle cx="844.8" cy="1230.7" r="8.3"/>
<circle cx="846.4" cy="1230.6" r="8.3"/>
<circle cx="848.0" cy="1230.9" r="8.3"/>
<circle cx="849.6" cy="1230.6" r="8.3"/>
<circle cx="851.2" cy="1231.3" r="8.3"/>
<circle cx="852.8" cy="1232.0" r="8.3"/>
<circle cx="854.4" cy="1231.9" r="8.3"/>
<circle cx="856.0" cy="1232.2" r="8.3"/>
<circle cx="857.6" cy="1232.3" r="8.3"/>
<circle cx="859.2" cy="1233.1" r="8.3"/>
<circle cx="860.7" cy="1232.9" r="8.3"/>
<circle cx="862.3" cy="1232.2" r="8.3"/>
<circle cx="863.9" cy="1233.0" r="8.3"/>
<circle cx="865.5" cy="1232.7" r="8.3"/>
<circle cx="867.1" cy="1232.3" r="8.3"/>
<circle cx="868.7" cy="1233.6" r="8.3"/>
<circle cx="870.3" cy="1234.5" r="8.3"/>
<circle cx="871.9" cy="1234.2" r="8.3"/>
<circle cx="873.5" cy="1233.8" r="8.3"/>
<circle cx="875.1" cy="1234.1" r="8.3"/>
<circle cx="876.7" cy="1235.1" r="8.3"/>
<circle cx="878.3" cy="1234.9" r="8.3"/>
<circle cx="879.9" cy="1235.0" r="8.3"/>
<circle cx="881.4" cy="1235.1" r="8.3"/>
<circle cx="883.0" cy="1235.2" r="8.3"/>
<circle cx="884.6" cy="1235.6" r="8.3"/>
<circle cx="886.2" cy="1235.6" r="8.3"/>
<circle cx="887.8" cy="1235.6" r="8.3"/>
<circle cx="889.4" cy="1235.1" r="8.3"/>
<circle cx="891.0" cy="1235.8" r="8.3"/>
<circle cx="892.6" cy="1235.3" r="8.3"/>
<circle cx="894.2" cy="1236.1" r="8.3"/>
<circle cx="895.8" cy="1235.1" r="8.3"/>
<circle cx="897.4" cy="1235.6" r="8.3"/>
<circle cx="899.0" cy="1235.6" r="8.3"/>
<circle cx="900.5" cy="1235.1" r="8.3"/>
<circle cx="902.1" cy="1236.3" r="8.3"/>
<circle cx="903.7" cy="1236.2" r="8.3"/>
<circle cx="905.3" cy="1235.5" r="8.3"/>
<circle cx="906.9" cy="1236.0" r="8.3"/>
<circle cx="908.5" cy="1235.7" r="8.3"/>
<circle cx="910.1" cy="1234.4" r="8.3"/>
<circle cx="911.7" cy="1235.4" r="8.3"/>
<circle cx="913.3" cy="1235.0" r="8.3"/>
<circle cx="914.9" cy="1234.8" r="8.3"/>
<circle cx="916.5" cy="1234.0" r="8.3"/>
<circle cx="918.1" cy="1233.9" r="8.3"/>
<circle cx="919.7" cy="1233.3" r="8.3"/>
<circle cx="921.2" cy="1232.9" r="8.3"/>
<circle cx="922.8" cy="1231.5" r="8.3"/>
<circle cx="924.4" cy="1230.2" r="8.3"/>
<circle cx="926.0" cy="1229.8" r="8.3"/>
<circle cx="927.6" cy="1227.7" r="8.3"/>
<circle cx="929.2" cy="1226.3" r="8.3"/>
<circle cx="930.8" cy="1224.1" r="8.3"/>
<circle cx="932.4" cy="1223.7" r="8.3"/>
<circle cx="934.0" cy="1221.7" r="8.3"/>
<circle cx="935.6" cy="1220.0" r="8.3"/>
<circle cx="937.2" cy="1218.1" r="8.3"/>
<circle cx="938.8" cy="1215.8" r="8.3"/>
<circle cx="940.4" cy="1213.5" r="8.3"/>
<circle cx="941.9" cy="1210.8" r="8.3"/>
<circle cx="943.5" cy="1208.1" r="8.3"/>
<circle cx="945.1" cy="1205.5" r="8.3"/>
<circle cx="946.7" cy="1203.3" r="8.3"/>
<circle cx="948.3" cy="1200.2" r="8.3"/>
<circle cx="949.9" cy="1197.2" r="8.3"/>
<circle cx="951.5" cy="1194.7" r="8.3"/>
<circle cx="953.1" cy="1193.0" r="8.3"/>
<circle cx="954.7" cy="1192.4" r="8.3"/>
<circle cx="956.3" cy="1190.9" r="8.3"/>
<circle cx="957.9" cy="1190.4" r="8.3"/>
<circle cx="959.5" cy="1191.0" r="8.3"/>
<circle cx="961.1" cy="1192.2" r="8.3"/>
<circle cx="962.6" cy="1194.7" r="8.3"/>
<circle cx="964.2" cy="1197.7" r="8.3"/>
<circle cx="965.8" cy="1200.7" r="8.3"/>
<circle cx="967.4" cy="1204.7" r="8.3"/>
<circle cx="969.0" cy="1208.5" r="8.3"/>
<circle cx="970.6" cy="1212.1" r="8.3"/>
<circle cx="972.2" cy="1214.7" r="8.3"/>
<circle cx="973.8" cy="1218.2" r="8.3"/>
<circle cx="975.4" cy="1220.5" r="8.3"/>
<circle cx="977.0" cy="1223.4" r="8.3"/>
<circle cx="978.6" cy="1224.6" r="8.3"/>
<circle cx="980.2" cy="1226.8" r="8.3"/>
<circle cx="981.8" cy="1228.7" r="8.3"/>
<circle cx="983.3" cy="1229.3" r="8.3"/>
<circle cx="984.9" cy="1230.3" r="8.3"/>
<circle cx="986.5" cy="1231.5" r="8.3"/>
<circle cx="988.1" cy="1232.4" r="8.3"/>
<circle cx="989.7" cy="1233.1" r="8.3"/>
<circle cx="991.3" cy="1234.8" r="8.3"/>
<circle cx="992.9" cy="1236.4" r="8.3"/>
<circle cx="994.5" cy="1236.4" r="8.3"/>
<circle cx="996.1" cy="1237.2" r="8.3"/>
<circle cx="997.7" cy="1237.5" r="8.3"/>
<circle cx="999.3" cy="1238.6" r="8.3"/>
<circle cx="1000.9" cy="1238.5" r="8.3"/>
<circle cx="1002.5" cy="1239.1" r="8.3"/>
<circle cx="1004.0" cy="1240.5" r="8.3"/>
<circle cx="1005.6" cy="1240.0" r="8.3"/>
<circle cx="1007.2" cy="1241.2" r="8.3"/>
<circle cx="1008.8" cy="1241.8" r="8.3"/>
<circle cx="1010.4" cy="1241.6" r="8.3"/>
<circle cx="1012.0" cy="1242.1" r="8.3"/>
<circle cx="1013.6" cy="1242.9" r="8.3"/>
<circle cx="1015.2" cy="1242.3" r="8.3"/>
<circle cx="1016.8" cy="1242.4" r="8.3"/>
<circle cx="1018.4" cy="1242.4" r="8.3"/>
<circle cx="1020.0" cy="1243.2" r="8.3"/>
<circle cx="1021.6" cy="1244.0" r="8.3"/>
<circle cx="1023.2" cy="1244.0" r="8.3"/>
<circle cx="1024.7" cy="1243.5" r="8.3"/>
<circle cx="1026.3" cy="1243.7" r="8.3"/>
<circle cx="1027.9" cy="1244.1" r="8.3"/>
<circle cx="1029.5" cy="1244.7" r="8.3"/>
<circle cx="1031.1" cy="1244.9" r="8.3"/>
<circle cx="1032.7" cy="1245.4" r="8.3"/>
<circle cx="1034.3" cy="1245.9" r="8.3"/>
<circle cx="1035.9" cy="1246.2" r="8.3"/>
<circle cx="1037.5" cy="1246.8" r="8.3"/>
<circle cx="1039.1" cy="1247.3" r="8.3"/>
<circle cx="1040.7" cy="1247.6" r="8.3"/>
<circle cx="1042.3" cy="1248.2" r="8.3"/>
<circle cx="1043.9" cy="1249.0" r="8.3"/>
<circle cx="1045.4" cy="1248.7" r="8.3"/>
<circle cx="1047.0" cy="1248.7" r="8.3"/>
<circle cx="1048.6" cy="1248.2" r="8.3"/>
<circle cx="1050.2" cy="1249.2" r="8.3"/>
<circle cx="1051.8" cy="1248.5" r="8.3"/>
<circle cx="1053.4" cy="1248.9" r="8.3"/>
<circle cx="1055.0" cy="1249.9" r="8.3"/>
<circle cx="1056.6" cy="1250.0" r="8.3"/>
<circle cx="1058.2" cy="1249.9" r="8.3"/>
<circle cx="1059.8" cy="1249.4" r="8.3"/>
<circle cx="1061.4" cy="1250.1" r="8.3"/>
<circle cx="1063.0" cy="1250.1" r="8.3"/>
<circle cx="1064.6" cy="1250.7" r="8.3"/>
<circle cx="1066.1" cy="1251.5" r="8.3"/>
<circle cx="1067.7" cy="1250.8" r="8.3"/>
<circle cx="1069.3" cy="1250.5" r="8.3"/>
<circle cx="1070.9" cy="1250.5" r="8.3"/>
<circle cx="1072.5" cy="1251.0" r="8.3"/>
<circle cx="1074.1" cy="1251.1" r="8.3"/>
<circle cx="1075.7" cy="1250.8" r="8.3"/>
<circle cx="1077.3" cy="1251.4" r="8.3"/>
<circle cx="1078.9" cy="1251.0" r="8.3"/>
<circle cx="1080.5" cy="1252.0" r="8.3"/>
<circle cx="1082.1" cy="1252.1" r="8.3"/>
<circle cx="1083.7" cy="1252.2" r="8.3"/>
<circle cx="1085.3" cy="1251.7" r="8.3"/>
<circle cx="1086.8" cy="1252.1" r="8.3"/>
<circle cx="1088.4" cy="1252.0" r="8.3"/>
<circle cx="1090.0" cy="1252.0" r="8.3"/>
<circle cx="1091.6" cy="1252.1" r="8.3"/>
<circle cx="1093.2" cy="1251.8" r="8.3"/>
<circle cx="1094.8" cy="1251.8" r="8.3"/>
<circle cx="1096.4" cy="1252.8" r="8.3"/>
<circle cx="1098.0" cy="1252.5" r="8.3"/>
<circle cx="1099.6" cy="1252.8" r="8.3"/>
<circle cx="1101.2" cy="1253.2" r="8.3"/>
<circle cx="1102.8" cy="1252.2" r="8.3"/>
<circle cx="1104.4" cy="1252.7" r="8.3"/>
<circle cx="1106.0" cy="1253.2" r="8.3"/>
<circle cx="1107.5" cy="1253.3" r="8.3"/>
<circle cx="1109.1" cy="1253.1" r="8.3"/>
<circle cx="1110.7" cy="1253.8" r="8.3"/>
<circle cx="1112.3" cy="1253.5" r="8.3"/>
<circle cx="1113.9" cy="1253.1" r="8.3"/>
<circle cx="1115.5" cy="1253.3" r="8.3"/>
<circle cx="1117.1" cy="1254.0" r="8.3"/>
<circle cx="1118.7" cy="1254.0" r="8.3"/>
<circle cx="1120.3" cy="1253.1" r="8.3"/>
<circle cx="1121.9" cy="1254.5" r="8.3"/>
<circle cx="1123.5" cy="1254.3" r="8.3"/>
<circle cx="1125.1" cy="1254.7" r="8.3"/>
<circle cx="1126.6" cy="1254.1" r="8.3"/>
<circle cx="1128.2" cy="1254.2" r="8.3"/>
<circle cx="1129.8" cy="1253.9" r="8.3"/>
<circle cx="1131.4" cy="1255.4" r="8.3"/>
<circle cx="1133.0" cy="1254.4" r="8.3"/>
<circle cx="1134.6" cy="1255.2" r="8.3"/>
<circle cx="1136.2" cy="1254.3" r="8.3"/>
<circle cx="1137.8" cy="1254.7" r="8.3"/>
<circle cx="1139.4" cy="1254.0" r="8.3"/>
<circle cx="1141.0" cy="1254.6" r="8.3"/>
<circle cx="1142.6" cy="1255.2" r="8.3"/>
<circle cx="1144.2" cy="1254.3" r="8.3"/>
<circle cx="1145.8" cy="1255.3" r="8.3"/>
<circle cx="1147.3" cy="1255.0" r="8.3"/>
<circle cx="1148.9" cy="1254.5" r="8.3"/>
<circle cx="1150.5" cy="1254.8" r="8.3"/>
<circle cx="1152.1" cy="1254.8" r="8.3"/>
<circle cx="1153.7" cy="1255.0" r="8.3"/>
<circle cx="1155.3" cy="1254.9" r="8.3"/>
<circle cx="1156.9" cy="1254.8" r="8.3"/>
<circle cx="1158.5" cy="1255.0" r="8.3"/>
<circle cx="1160.1" cy="1254.8" r="8.3"/>
<circle cx="1161.7" cy="1254.7" r="8.3"/>
<circle cx="1163.3" cy="1255.2" r="8.3"/>
<circle cx="1164.9" cy="1255.6" r="8.3"/>
<circle cx="1166.5" cy="1254.6" r="8.3"/>
<circle cx="1168.0" cy="1255.3" r="8.3"/>
<circle cx="1169.6" cy="1255.0" r="8.3"/>
<circle cx="1171.2" cy="1254.9" r="8.3"/>
<circle cx="1172.8" cy="1255.6" r="8.3"/>
<circle cx="1174.4" cy="1255.1" r="8.3"/>
<circle cx="1176.0" cy="1255.9" r="8.3"/>
<circle cx="1177.6" cy="1255.0" r="8.3"/>
<circle cx="1179.2" cy="1255.4" r="8.3"/>
<circle cx="1180.8" cy="1255.2" r="8.3"/>
<circle cx="1182.4" cy="1255.0" r="8.3"/>
<circle cx="1184.0" cy="1255.5" r="8.3"/>
<circle cx="1185.6" cy="1255.2" r="8.3"/>
<circle cx="1187.2" cy="1255.5" r="8.3"/>
<circle cx="1188.7" cy="1255.2" r="8.3"/>
<circle cx="1190.3" cy="1254.8" r="8.3"/>
<circle cx="1191.9" cy="1255.2" r="8.3"/>
<circle cx="1193.5" cy="1255.2" r="8.3"/>
<circle cx="1195.1" cy="1255.5" r="8.3"/>
<circle cx="1196.7" cy="1254.7" r="8.3"/>
<circle cx="1198.3" cy="1255.0" r="8.3"/>
<circle cx="1199.9" cy="1254.3" r="8.3"/>
<circle cx="1201.5" cy="1255.2" r="8.3"/>
<circle cx="1203.1" cy="1254.4" r="8.3"/>
<circle cx="1204.7" cy="1254.1" r="8.3"/>
<circle cx="1206.3" cy="1254.7" r="8.3"/>
<circle cx="1207.9" cy="1255.1" r="8.3"/>
<circle cx="1209.4" cy="1254.0" r="8.3"/>
<circle cx="1211.0" cy="1254.1" r="8.3"/>
<circle cx="1212.6" cy="1254.1" r="8.3"/>
<circle cx="1214.2" cy="1253.9" r="8.3"/>
<circle cx="1215.8" cy="1254.4" r="8.3"/>
<circle cx="1217.4" cy="1253.9" r="8.3"/>
<circle cx="1219.0" cy="1253.8" r="8.3"/>
<circle cx="1220.6" cy="1254.3" r="8.3"/>
<circle cx="1222.2" cy="1253.7" r="8.3"/>
<circle cx="1223.8" cy="1254.1" r="8.3"/>
<circle cx="1225.4" cy="1253.4" r="8.3"/>
<circle cx="1227.0" cy="1253.3" r="8.3"/>
<circle cx="1228.6" cy="1252.9" r="8.3"/>
<circle cx="1230.1" cy="1254.4" r="8.3"/>
<circle cx="1231.7" cy="1253.4" r="8.3"/>
<circle cx="1233.3" cy="1253.6" r="8.3"/>
<circle cx="1234.9" cy="1253.4" r="8.3"/>
<circle cx="1236.5" cy="1253.4" r="8.3"/>
<circle cx="1238.1" cy="1253.3" r="8.3"/>
<circle cx="1239.7" cy="1254.0" r="8.3"/>
<circle cx="1241.3" cy="1252.7" r="8.3"/>
<circle cx="1242.9" cy="1252.5" r="8.3"/>
<circle cx="1244.5" cy="1252.6" r="8.3"/>
<circle cx="1246.1" cy="1252.4" r="8.3"/>
<circle cx="1247.7" cy="1253.2" r="8.3"/>
<circle cx="1249.3" cy="1253.1" r="8.3"/>
<circle cx="1250.8" cy="1252.3" r="8.3"/>
<circle cx="1252.4" cy="1252.1" r="8.3"/>
<circle cx="1254.0" cy="1252.4" r="8.3"/>
<circle cx="1255.6" cy="1253.1" r="8.3"/>
<circle cx="1257.2" cy="1251.3" r="8.3"/>
<circle cx="1258.8" cy="1252.6" r="8.3"/>
<circle cx="1260.4" cy="1251.8" r="8.3"/>
<circle cx="1262.0" cy="1252.6" r="8.3"/>
<circle cx="1263.6" cy="1251.7" r="8.3"/>
<circle cx="1265.2" cy="1252.0" r="8.3"/>
<circle cx="1266.8" cy="1251.4" r="8.3"/>
<circle cx="1268.4" cy="1251.5" r="8.3"/>
<circle cx="1270.0" cy="1252.4" r="8.3"/>
<circle cx="1271.5" cy="1252.1" r="8.3"/>
<circle cx="1273.1" cy="1251.6" r="8.3"/>
<circle cx="1274.7" cy="1251.3" r="8.3"/>
<circle cx="1276.3" cy="1250.8" r="8.3"/>
<circle cx="1277.9" cy="1251.4" r="8.3"/>
<circle cx="1279.5" cy="1251.4" r="8.3"/>
<circle cx="1281.1" cy="1251.4" r="8.3"/>
<circle cx="1282.7" cy="1251.3" r="8.3"/>
<circle cx="1284.3" cy="1250.8" r="8.3"/>
<circle cx="1285.9" cy="1251.2" r="8.3"/>
<circle cx="1287.5" cy="1251.1" r="8.3"/>
<circle cx="1289.1" cy="1251.6" r="8.3"/>
<circle cx="1290.7" cy="1251.7" r="8.3"/>
<circle cx="1292.2" cy="1250.9" r="8.3"/>
<circle cx="1293.8" cy="1250.6" r="8.3"/>
<circle cx="1295.4" cy="1250.8" r="8.3"/>
<circle cx="1297.0" cy="1250.5" r="8.3"/>
<circle cx="1298.6" cy="1250.4" r="8.3"/>
<circle cx="1300.2" cy="1250.6" r="8.3"/>
<circle cx="1301.8" cy="1250.1" r="8.3"/>
<circle cx="1303.4" cy="1250.7" r="8.3"/>
<circle cx="1305.0" cy="1250.4" r="8.3"/>
<circle cx="1306.6" cy="1250.5" r="8.3"/>
<circle cx="1308.2" cy="1250.2" r="8.3"/>
<circle cx="1309.8" cy="1250.0" r="8.3"/>
<circle cx="1311.4" cy="1249.8" r="8.3"/>
<circle cx="1312.9" cy="1250.0" r="8.3"/>
<circle cx="1314.5" cy="1249.9" r="8.3"/>
<circle cx="1316.1" cy="1250.1" r="8.3"/>
<circle cx="1317.7" cy="1250.0" r="8.3"/>
<circle cx="1319.3" cy="1249.4" r="8.3"/>
<circle cx="1320.9" cy="1249.9" r="8.3"/>
<circle cx="1322.5" cy="1249.3" r="8.3"/>
<circle cx="1324.1" cy="1249.5" r="8.3"/>
<circle cx="1325.7" cy="1249.6" r="8.3"/>
<circle cx="1327.3" cy="1248.8" r="8.3"/>
<circle cx="1328.9" cy="1249.6" r="8.3"/>
<circle cx="1330.5" cy="1249.6" r="8.3"/>
<circle cx="1332.0" cy="1249.4" r="8.3"/>
<circle cx="1333.6" cy="1249.3" r="8.3"/>
<circle cx="1335.2" cy="1249.3" r="8.3"/>
<circle cx="1336.8" cy="1249.0" r="8.3"/>
<circle cx="1338.4" cy="1249.2" r="8.3"/>
<circle cx="1340.0" cy="1249.1" r="8.3"/>
<circle cx="1341.6" cy="1249.3" r="8.3"/>
<circle cx="1343.2" cy="1248.7" r="8.3"/>
<circle cx="1344.8" cy="1249.2" r="8.3"/>
<circle cx="1346.4" cy="1249.2" r="8.3"/>
<circle cx="1348.0" cy="1249.0" r="8.3"/>
<circle cx="1349.6" cy="1248.9" r="8.3"/>
<circle cx="1351.2" cy="1249.2" r="8.3"/>
<circle cx="1352.7" cy="1248.3" r="8.3"/>
<circle cx="1354.3" cy="1249.1" r="8.3"/>
<circle cx="1355.9" cy="1249.0" r="8.3"/>
<circle cx="1357.5" cy="1248.9" r="8.3"/>
<circle cx="1359.1" cy="1248.9" r="8.3"/>
<circle cx="1360.7" cy="1248.5" r="8.3"/>
<circle cx="1362.3" cy="1248.6" r="8.3"/>
<circle cx="1363.9" cy="1248.9" r="8.3"/>
<circle cx="1365.5" cy="1248.8" r="8.3"/>
<circle cx="1367.1" cy="1248.7" r="8.3"/>
<circle cx="1368.7" cy="1247.9" r="8.3"/>
<circle cx="1370.3" cy="1248.7" r="8.3"/>
<circle cx="1371.9" cy="1248.9" r="8.3"/>
<circle cx="1373.4" cy="1248.8" r="8.3"/>
<circle cx="1375.0" cy="1248.5" r="8.3"/>
<circle cx="1376.6" cy="1247.7" r="8.3"/>
<circle cx="1378.2" cy="1248.7" r="8.3"/>
<circle cx="1379.8" cy="1248.2" r="8.3"/>
<circle cx="1381.4" cy="1247.2" r="8.3"/>
<circle cx="1383.0" cy="1248.3" r="8.3"/>
<circle cx="1384.6" cy="1247.6" r="8.3"/>
<circle cx="1386.2" cy="1247.6" r="8.3"/>
<circle cx="1387.8" cy="1247.8" r="8.3"/>
<circle cx="1389.4" cy="1248.6" r="8.3"/>
<circle cx="1391.0" cy="1247.9" r="8.3"/>
<circle cx="1392.6" cy="1248.1" r="8.3"/>
<circle cx="1394.1" cy="1248.6" r="8.3"/>
<circle cx="1395.7" cy="1248.5" r="8.3"/>
<circle cx="1397.3" cy="1247.8" r="8.3"/>
<circle cx="1398.9" cy="1247.7" r="8.3"/>
<circle cx="1400.5" cy="1247.2" r="8.3"/>
<circle cx="1402.1" cy="1247.4" r="8.3"/>
<circle cx="1403.7" cy="1247.8" r="8.3"/>
<circle cx="1405.3" cy="1247.7" r="8.3"/>
<circle cx="1406.9" cy="1247.6" r="8.3"/>
<circle cx="1408.5" cy="1247.8" r="8.3"/>
<circle cx="1410.1" cy="1247.1" r="8.3"/>
<circle cx="1411.7" cy="1247.3" r="8.3"/>
<circle cx="1413.3" cy="1247.5" r="8.3"/>
<circle cx="1414.8" cy="1247.3" r="8.3"/>
<circle cx="1416.4" cy="1247.4" r="8.3"/>
<circle cx="1418.0" cy="1247.1" r="8.3"/>
<circle cx="1419.6" cy="1246.7" r="8.3"/>
<circle cx="1421.2" cy="1246.9" r="8.3"/>
<circle cx="1422.8" cy="1246.2" r="8.3"/>
<circle cx="1424.4" cy="1245.9" r="8.3"/>
<circle cx="1426.0" cy="1246.7" r="8.3"/>
<circle cx="1427.6" cy="1246.3" r="8.3"/>
<circle cx="1429.2" cy="1246.4" r="8.3"/>
<circle cx="1430.8" cy="1245.5" r="8.3"/>
<circle cx="1432.4" cy="1245.9" r="8.3"/>
<circle cx="1434.0" cy="1245.7" r="8.3"/>
<circle cx="1435.5" cy="1245.5" r="8.3"/>
<circle cx="1437.1" cy="1244.9" r="8.3"/>
<circle cx="1438.7" cy="1245.5" r="8.3"/>
<circle cx="1440.3" cy="1246.0" r="8.3"/>
<circle cx="1441.9" cy="1245.7" r="8.3"/>
<circle cx="1443.5" cy="1245.2" r="8.3"/>
<circle cx="1445.1" cy="1245.3" r="8.3"/>
<circle cx="1446.7" cy="1245.6" r="8.3"/>
<circle cx="1448.3" cy="1244.1" r="8.3"/>
<circle cx="1449.9" cy="1245.1" r="8.3"/>
<circle cx="1451.5" cy="1245.3" r="8.3"/>
<circle cx="1453.1" cy="1245.3" r="8.3"/>
<circle cx="1454.7" cy="1245.6" r="8.3"/>
<circle cx="1456.2" cy="1245.3" r="8.3"/>
<circle cx="1457.8" cy="1244.9" r="8.3"/>
<circle cx="1459.4" cy="1244.8" r="8.3"/>
<circle cx="1461.0" cy="1244.9" r="8.3"/>
<circle cx="1462.6" cy="1244.3" r="8.3"/>
<circle cx="1464.2" cy="1244.5" r="8.3"/>
<circle cx="1465.8" cy="1244.8" r="8.3"/>
<circle cx="1467.4" cy="1245.1" r="8.3"/>
<circle cx="1469.0" cy="1244.2" r="8.3"/>
<circle cx="1470.6" cy="1244.2" r="8.3"/>
<circle cx="1472.2" cy="1244.2" r="8.3"/>
<circle cx="1473.8" cy="1244.6" r="8.3"/>
<circle cx="1475.4" cy="1244.0" r="8.3"/>
<circle cx="1476.9" cy="1244.5" r="8.3"/>
<circle cx="1478.5" cy="1243.5" r="8.3"/>
<circle cx="1480.1" cy="1243.7" r="8.3"/>
<circle cx="1481.7" cy="1243.7" r="8.3"/>
<circle cx="1483.3" cy="1244.0" r="8.3"/>
<circle cx="1484.9" cy="1244.1" r="8.3"/>
<circle cx="1486.5" cy="1243.0" r="8.3"/>
<circle cx="1488.1" cy="1243.2" r="8.3"/>
<circle cx="1489.7" cy="1243.7" r="8.3"/>
<circle cx="1491.3" cy="1243.2" r="8.3"/>
<circle cx="1492.9" cy="1242.8" r="8.3"/>
<circle cx="1494.5" cy="1243.8" r="8.3"/>
<circle cx="1496.1" cy="1243.6" r="8.3"/>
<circle cx="1497.6" cy="1243.6" r="8.3"/>
<circle cx="1499.2" cy="1243.2" r="8.3"/>
<circle cx="1500.8" cy="1243.7" r="8.3"/>
<circle cx="1502.4" cy="1243.2" r="8.3"/>
<circle cx="1504.0" cy="1243.7" r="8.3"/>
<circle cx="1505.6" cy="1242.9" r="8.3"/>
<circle cx="1507.2" cy="1242.9" r="8.3"/>
<circle cx="1508.8" cy="1243.3" r="8.3"/>
<circle cx="1510.4" cy="1242.9" r="8.3"/>
<circle cx="1512.0" cy="1243.5" r="8.3"/>
<circle cx="1513.6" cy="1243.3" r="8.3"/>
<circle cx="1515.2" cy="1242.8" r="8.3"/>
<circle cx="1516.8" cy="1243.2" r="8.3"/>
<circle cx="1518.3" cy="1243.0" r="8.3"/>
<circle cx="1519.9" cy="1243.5" r="8.3"/>
<circle cx="1521.5" cy="1242.9" r="8.3"/>
<circle cx="1523.1" cy="1242.9" r="8.3"/>
<circle cx="1524.7" cy="1243.6" r="8.3"/>
<circle cx="1526.3" cy="1244.0" r="8.3"/>
<circle cx="1527.9" cy="1243.9" r="8.3"/>
<circle cx="1529.5" cy="1243.1" r="8.3"/>
<circle cx="1531.1" cy="1243.1" r="8.3"/>
<circle cx="1532.7" cy="1243.6" r="8.3"/>
<circle cx="1534.3" cy="1242.9" r="8.3"/>
<circle cx="1535.9" cy="1242.6" r="8.3"/>
<circle cx="1537.4" cy="1243.0" r="8.3"/>
<circle cx="1539.0" cy="1243.1" r="8.3"/>
<circle cx="1540.6" cy="1242.6" r="8.3"/>
<circle cx="1542.2" cy="1242.3" r="8.3"/>
<circle cx="1543.8" cy="1242.3" r="8.3"/>
<circle cx="1545.4" cy="1243.2" r="8.3"/>
<circle cx="1547.0" cy="1242.6" r="8.3"/>
<circle cx="1548.6" cy="1242.8" r="8.3"/>
<circle cx="1550.2" cy="1242.9" r="8.3"/>
<circle cx="1551.8" cy="1243.1" r="8.3"/>
<circle cx="1553.4" cy="1242.7" r="8.3"/>
<circle cx="1555.0" cy="1243.0" r="8.3"/>
<circle cx="1556.6" cy="1242.4" r="8.3"/>
<circle cx="1558.1" cy="1242.6" r="8.3"/>
<circle cx="1559.7" cy="1242.3" r="8.3"/>
<circle cx="1561.3" cy="1243.2" r="8.3"/>
<circle cx="1562.9" cy="1242.7" r="8.3"/>
<circle cx="1564.5" cy="1242.4" r="8.3"/>
<circle cx="1566.1" cy="1242.5" r="8.3"/>
<circle cx="1567.7" cy="1242.6" r="8.3"/>
<circle cx="1569.3" cy="1242.9" r="8.3"/>
<circle cx="1570.9" cy="1242.0" r="8.3"/>
<circle cx="1572.5" cy="1242.2" r="8.3"/>
<circle cx="1574.1" cy="1242.4" r="8.3"/>
<circle cx="1575.7" cy="1243.6" r="8.3"/>
<circle cx="1577.3" cy="1242.9" r="8.3"/>
<circle cx="1578.8" cy="1242.5" r="8.3"/>
<circle cx="1580.4" cy="1242.8" r="8.3"/>
<circle cx="1582.0" cy="1243.3" r="8.3"/>
<circle cx="1583.6" cy="1242.3" r="8.3"/>
<circle cx="1585.2" cy="1242.3" r="8.3"/>
<circle cx="1586.8" cy="1242.9" r="8.3"/>
<circle cx="1588.4" cy="1242.5" r="8.3"/>
<circle cx="1590.0" cy="1242.6" r="8.3"/>
<circle cx="1591.6" cy="1242.1" r="8.3"/>
<circle cx="1593.2" cy="1243.0" r="8.3"/>
<circle cx="1594.8" cy="1242.9" r="8.3"/>
<circle cx="1596.4" cy="1242.4" r="8.3"/>
<circle cx="1598.0" cy="1242.4" r="8.3"/>
<circle cx="1599.5" cy="1241.2" r="8.3"/>
<circle cx="1601.1" cy="1242.2" r="8.3"/>
<circle cx="1602.7" cy="1241.8" r="8.3"/>
<circle cx="1604.3" cy="1242.0" r="8.3"/>
<circle cx="1605.9" cy="1242.0" r="8.3"/>
<circle cx="1607.5" cy="1241.5" r="8.3"/>
<circle cx="1609.1" cy="1240.9" r="8.3"/>
<circle cx="1610.7" cy="1241.6" r="8.3"/>
<circle cx="1612.3" cy="1241.1" r="8.3"/>
<circle cx="1613.9" cy="1241.1" r="8.3"/>
<circle cx="1615.5" cy="1240.9" r="8.3"/>
<circle cx="1617.1" cy="1240.9" r="8.3"/>
<circle cx="1618.7" cy="1240.0" r="8.3"/>
<circle cx="1620.2" cy="1241.4" r="8.3"/>
<circle cx="1621.8" cy="1240.9" r="8.3"/>
<circle cx="1623.4" cy="1241.1" r="8.3"/>
<circle cx="1625.0" cy="1241.3" r="8.3"/>
<circle cx="1626.6" cy="1240.4" r="8.3"/>
<circle cx="1628.2" cy="1239.6" r="8.3"/>
<circle cx="1629.8" cy="1239.8" r="8.3"/>
<circle cx="1631.4" cy="1239.5" r="8.3"/>
<circle cx="1633.0" cy="1239.7" r="8.3"/>
<circle cx="1634.6" cy="1239.8" r="8.3"/>
<circle cx="1636.2" cy="1238.8" r="8.3"/>
<circle cx="1637.8" cy="1239.5" r="8.3"/>
<circle cx="1639.4" cy="1238.6" r="8.3"/>
<circle cx="1640.9" cy="1239.2" r="8.3"/>
<circle cx="1642.5" cy="1238.8" r="8.3"/>
<circle cx="1644.1" cy="1238.5" r="8.3"/>
<circle cx="1645.7" cy="1238.4" r="8.3"/>
<circle cx="1647.3" cy="1238.0" r="8.3"/>
<circle cx="1648.9" cy="1237.7" r="8.3"/>
<circle cx="1650.5" cy="1236.9" r="8.3"/>
<circle cx="1652.1" cy="1237.3" r="8.3"/>
<circle cx="1653.7" cy="1237.6" r="8.3"/>
<circle cx="1655.3" cy="1237.3" r="8.3"/>
<circle cx="1656.9" cy="1236.6" r="8.3"/>
<circle cx="1658.5" cy="1235.9" r="8.3"/>
<circle cx="1660.1" cy="1234.9" r="8.3"/>
<circle cx="1661.6" cy="1235.2" r="8.3"/>
<circle cx="1663.2" cy="1234.1" r="8.3"/>
<circle cx="1664.8" cy="1233.4" r="8.3"/>
<circle cx="1666.4" cy="1232.6" r="8.3"/>
<circle cx="1668.0" cy="1232.0" r="8.3"/>
<circle cx="1669.6" cy="1230.9" r="8.3"/>
<circle cx="1671.2" cy="1230.1" r="8.3"/>
<circle cx="1672.8" cy="1228.8" r="8.3"/>
<circle cx="1674.4" cy="1228.0" r="8.3"/>
<circle cx="1676.0" cy="1227.9" r="8.3"/>
<circle cx="1677.6" cy="1225.7" r="8.3"/>
<circle cx="1679.2" cy="1224.2" r="8.3"/>
<circle cx="1680.8" cy="1223.1" r="8.3"/>
<circle cx="1682.3" cy="1221.6" r="8.3"/>
<circle cx="1683.9" cy="1219.4" r="8.3"/>
<circle cx="1685.5" cy="1218.3" r="8.3"/>
<circle cx="1687.1" cy="1217.1" r="8.3"/>
<circle cx="1688.7" cy="1215.1" r="8.3"/>
<circle cx="1690.3" cy="1213.3" r="8.3"/>
<circle cx="1691.9" cy="1212.3" r="8.3"/>
<circle cx="1693.5" cy="1210.1" r="8.3"/>
<circle cx="1695.1" cy="1209.3" r="8.3"/>
<circle cx="1696.7" cy="1207.9" r="8.3"/>
<circle cx="1698.3" cy="1207.7" r="8.3"/>
<circle cx="1699.9" cy="1205.6" r="8.3"/>
<circle cx="1701.5" cy="1206.0" r="8.3"/>
<circle cx="1703.0" cy="1206.7" r="8.3"/>
<circle cx="1704.6" cy="1208.3" r="8.3"/>
<circle cx="1706.2" cy="1209.7" r="8.3"/>
<circle cx="1707.8" cy="1211.6" r="8.3"/>
<circle cx="1709.4" cy="1211.8" r="8.3"/>
<circle cx="1711.0" cy="1214.4" r="8.3"/>
<circle cx="1712.6" cy="1215.7" r="8.3"/>
<circle cx="1714.2" cy="1217.2" r="8.3"/>
<circle cx="1715.8" cy="1219.1" r="8.3"/>
<circle cx="1717.4" cy="1219.8" r="8.3"/>
<circle cx="1719.0" cy="1220.4" r="8.3"/>
<circle cx="1720.6" cy="1222.1" r="8.3"/>
<circle cx="1722.2" cy="1222.7" r="8.3"/>
<circle cx="1723.7" cy="1224.1" r="8.3"/>
<circle cx="1725.3" cy="1225.6" r="8.3"/>
<circle cx="1726.9" cy="1226.6" r="8.3"/>
<circle cx="1728.5" cy="1228.1" r="8.3"/>
<circle cx="1730.1" cy="1228.1" r="8.3"/>
<circle cx="1731.7" cy="1228.4" r="8.3"/>
<circle cx="1733.3" cy="1229.4" r="8.3"/>
<circle cx="1734.9" cy="1230.1" r="8.3"/>
<circle cx="1736.5" cy="1230.7" r="8.3"/>
<circle cx="1738.1" cy="1232.0" r="8.3"/>
<circle cx="1739.7" cy="1232.1" r="8.3"/>
<circle cx="1741.3" cy="1232.1" r="8.3"/>
<circle cx="1742.9" cy="1233.7" r="8.3"/>
<circle cx="1744.4" cy="1233.9" r="8.3"/>
<circle cx="1746.0" cy="1234.5" r="8.3"/>
<circle cx="1747.6" cy="1234.9" r="8.3"/>
<circle cx="1749.2" cy="1235.5" r="8.3"/>
<circle cx="1750.8" cy="1235.7" r="8.3"/>
<circle cx="1752.4" cy="1236.7" r="8.3"/>
<circle cx="1754.0" cy="1236.7" r="8.3"/>
<circle cx="1755.6" cy="1237.1" r="8.3"/>
<circle cx="1757.2" cy="1237.4" r="8.3"/>
<circle cx="1758.8" cy="1236.9" r="8.3"/>
<circle cx="1760.4" cy="1237.7" r="8.3"/>
<circle cx="1762.0" cy="1237.8" r="8.3"/>
<circle cx="1763.5" cy="1238.1" r="8.3"/>
<circle cx="1765.1" cy="1237.6" r="8.3"/>
<circle cx="1766.7" cy="1239.0" r="8.3"/>
<circle cx="1768.3" cy="1238.5" r="8.3"/>
<circle cx="1769.9" cy="1238.1" r="8.3"/>
<circle cx="1771.5" cy="1238.0" r="8.3"/>
<circle cx="1773.1" cy="1238.6" r="8.3"/>
<circle cx="1774.7" cy="1238.8" r="8.3"/>
<circle cx="1776.3" cy="1238.7" r="8.3"/>
<circle cx="1777.9" cy="1239.1" r="8.3"/>
<circle cx="1779.5" cy="1238.9" r="8.3"/>
<circle cx="1781.1" cy="1239.4" r="8.3"/>
<circle cx="1782.7" cy="1239.0" r="8.3"/>
<circle cx="1784.2" cy="1239.4" r="8.3"/>
<circle cx="1785.8" cy="1239.9" r="8.3"/>
<circle cx="1787.4" cy="1240.6" r="8.3"/>
<circle cx="1789.0" cy="1239.2" r="8.3"/>
<circle cx="1790.6" cy="1239.5" r="8.3"/>
<circle cx="1792.2" cy="1239.4" r="8.3"/>
<circle cx="1793.8" cy="1240.1" r="8.3"/>
<circle cx="1795.4" cy="1239.4" r="8.3"/>
<circle cx="1797.0" cy="1239.8" r="8.3"/>
<circle cx="1798.6" cy="1240.0" r="8.3"/>
<circle cx="1800.2" cy="1239.7" r="8.3"/>
<circle cx="1801.8" cy="1239.8" r="8.3"/>
<circle cx="1803.4" cy="1240.0" r="8.3"/>
<circle cx="1804.9" cy="1239.4" r="8.3"/>
<circle cx="1806.5" cy="1239.7" r="8.3"/>
<circle cx="1808.1" cy="1240.2" r="8.3"/>
<circle cx="1809.7" cy="1240.5" r="8.3"/>
<circle cx="1811.3" cy="1240.4" r="8.3"/>
<circle cx="1812.9" cy="1239.8" r="8.3"/>
<circle cx="1814.5" cy="1240.4" r="8.3"/>
<circle cx="1816.1" cy="1240.9" r="8.3"/>
<circle cx="1817.7" cy="1240.9" r="8.3"/>
<circle cx="1819.3" cy="1240.7" r="8.3"/>
<circle cx="1820.9" cy="1240.4" r="8.3"/>
<circle cx="1822.5" cy="1241.0" r="8.3"/>
<circle cx="1824.1" cy="1240.6" r="8.3"/>
<circle cx="1825.6" cy="1240.4" r="8.3"/>
<circle cx="1827.2" cy="1240.6" r="8.3"/>
<circle cx="1828.8" cy="1241.5" r="8.3"/>
<circle cx="1830.4" cy="1241.0" r="8.3"/>
<circle cx="1832.0" cy="1241.5" r="8.3"/>
<circle cx="1833.6" cy="1240.8" r="8.3"/>
<circle cx="1835.2" cy="1241.4" r="8.3"/>
<circle cx="1836.8" cy="1240.9" r="8.3"/>
<circle cx="1838.4" cy="1241.1" r="8.3"/>
<circle cx="1840.0" cy="1242.2" r="8.3"/>
<circle cx="1841.6" cy="1241.5" r="8.3"/>
<circle cx="1843.2" cy="1241.1" r="8.3"/>
<circle cx="1844.8" cy="1241.3" r="8.3"/>
<circle cx="1846.3" cy="1241.5" r="8.3"/>
<circle cx="1847.9" cy="1241.9" r="8.3"/>
<circle cx="1849.5" cy="1241.2" r="8.3"/>
<circle cx="1851.1" cy="1240.8" r="8.3"/>
<circle cx="1852.7" cy="1241.4" r="8.3"/>
<circle cx="1854.3" cy="1241.6" r="8.3"/>
<circle cx="1855.9" cy="1241.7" r="8.3"/>
<circle cx="1857.5" cy="1242.2" r="8.3"/>
<circle cx="1859.1" cy="1241.8" r="8.3"/>
<circle cx="1860.7" cy="1242.1" r="8.3"/>
<circle cx="1862.3" cy="1241.4" r="8.3"/>
<circle cx="1863.9" cy="1242.2" r="8.3"/>
<circle cx="1865.5" cy="1242.8" r="8.3"/>
<circle cx="1867.0" cy="1242.3" r="8.3"/>
<circle cx="1868.6" cy="1242.1" r="8.3"/>
<circle cx="1870.2" cy="1242.2" r="8.3"/>
<circle cx="1871.8" cy="1242.9" r="8.3"/>
<circle cx="1873.4" cy="1241.8" r="8.3"/>
<circle cx="1875.0" cy="1242.2" r="8.3"/>
<circle cx="1876.6" cy="1242.5" r="8.3"/>
<circle cx="1878.2" cy="1242.7" r="8.3"/>
<circle cx="1879.8" cy="1242.3" r="8.3"/>
<circle cx="1881.4" cy="1242.6" r="8.3"/>
<circle cx="1883.0" cy="1242.4" r="8.3"/>
<circle cx="1884.6" cy="1242.6" r="8.3"/>
<circle cx="1886.2" cy="1242.6" r="8.3"/>
<circle cx="1887.7" cy="1242.2" r="8.3"/>
<circle cx="1889.3" cy="1242.7" r="8.3"/>
<circle cx="1890.9" cy="1243.1" r="8.3"/>
<circle cx="1892.5" cy="1242.4" r="8.3"/>
<circle cx="1894.1" cy="1242.8" r="8.3"/>
<circle cx="1895.7" cy="1243.2" r="8.3"/>
<circle cx="1897.3" cy="1242.5" r="8.3"/>
<circle cx="1898.9" cy="1243.1" r="8.3"/>
<circle cx="1900.5" cy="1242.6" r="8.3"/>
<circle cx="1902.1" cy="1243.5" r="8.3"/>
<circle cx="1903.7" cy="1244.0" r="8.3"/>
<circle cx="1905.3" cy="1243.9" r="8.3"/>
<circle cx="1906.9" cy="1243.1" r="8.3"/>
<circle cx="1908.4" cy="1243.5" r="8.3"/>
<circle cx="1910.0" cy="1243.3" r="8.3"/>
<circle cx="1911.6" cy="1243.3" r="8.3"/>
<circle cx="1913.2" cy="1243.9" r="8.3"/>
<circle cx="1914.8" cy="1242.8" r="8.3"/>
<circle cx="1916.4" cy="1243.8" r="8.3"/>
<circle cx="1918.0" cy="1243.4" r="8.3"/>
<circle cx="1919.6" cy="1244.0" r="8.3"/>
<circle cx="1921.2" cy="1243.5" r="8.3"/>
<circle cx="1922.8" cy="1243.2" r="8.3"/>
<circle cx="1924.4" cy="1243.6" r="8.3"/>
<circle cx="1926.0" cy="1243.8" r="8.3"/>
<circle cx="1927.6" cy="1243.6" r="8.3"/>
<circle cx="1929.1" cy="1243.8" r="8.3"/>
<circle cx="1930.7" cy="1243.4" r="8.3"/>
<circle cx="1932.3" cy="1242.8" r="8.3"/>
<circle cx="1933.9" cy="1244.0" r="8.3"/>
<circle cx="1935.5" cy="1243.9" r="8.3"/>
<circle cx="1937.1" cy="1243.7" r="8.3"/>
<circle cx="1938.7" cy="1243.7" r="8.3"/>
<circle cx="1940.3" cy="1244.1" r="8.3"/>
<circle cx="1941.9" cy="1243.5" r="8.3"/>
<circle cx="1943.5" cy="1243.4" r="8.3"/>
<circle cx="1945.1" cy="1243.6" r="8.3"/>
<circle cx="1946.7" cy="1244.1" r="8.3"/>
<circle cx="1948.3" cy="1243.1" r="8.3"/>
<circle cx="1949.8" cy="1244.1" r="8.3"/>
<circle cx="1951.4" cy="1243.4" r="8.3"/>
<circle cx="1953.0" cy="1243.2" r="8.3"/>
<circle cx="1954.6" cy="1244.1" r="8.3"/>
<circle cx="1956.2" cy="1243.5" r="8.3"/>
<circle cx="1957.8" cy="1243.0" r="8.3"/>
<circle cx="1959.4" cy="1243.4" r="8.3"/>
<circle cx="1961.0" cy="1243.8" r="8.3"/>
<circle cx="1962.6" cy="1243.9" r="8.3"/>
<circle cx="1964.2" cy="1243.2" r="8.3"/>
<circle cx="1965.8" cy="1243.5" r="8.3"/>
<circle cx="1967.4" cy="1243.6" r="8.3"/>
<circle cx="1968.9" cy="1243.0" r="8.3"/>
<circle cx="1970.5" cy="1243.4" r="8.3"/>
<circle cx="1972.1" cy="1243.2" r="8.3"/>
<circle cx="1973.7" cy="1243.0" r="8.3"/>
<circle cx="1975.3" cy="1243.0" r="8.3"/>
<circle cx="1976.9" cy="1243.1" r="8.3"/>
<circle cx="1978.5" cy="1243.1" r="8.3"/>
<circle cx="1980.1" cy="1242.8" r="8.3"/>
<circle cx="1981.7" cy="1242.8" r="8.3"/>
<circle cx="1983.3" cy="1243.4" r="8.3"/>
<circle cx="1984.9" cy="1242.9" r="8.3"/>
<circle cx="1986.5" cy="1243.1" r="8.3"/>
<circle cx="1988.1" cy="1243.2" r="8.3"/>
<circle cx="1989.6" cy="1242.8" r="8.3"/>
<circle cx="1991.2" cy="1243.4" r="8.3"/>
<circle cx="1992.8" cy="1242.1" r="8.3"/>
<circle cx="1994.4" cy="1242.7" r="8.3"/>
<circle cx="1996.0" cy="1242.1" r="8.3"/>
<circle cx="1997.6" cy="1242.9" r="8.3"/>
<circle cx="1999.2" cy="1242.7" r="8.3"/>
<circle cx="2000.8" cy="1241.2" r="8.3"/>
<circle cx="2002.4" cy="1241.5" r="8.3"/>
<circle cx="2004.0" cy="1242.0" r="8.3"/>
<circle cx="2005.6" cy="1242.0" r="8.3"/>
<circle cx="2007.2" cy="1241.8" r="8.3"/>
<circle cx="2008.8" cy="1241.4" r="8.3"/>
<circle cx="2010.3" cy="1241.5" r="8.3"/>
<circle cx="2011.9" cy="1241.5" r="8.3"/>
<circle cx="2013.5" cy="1241.1" r="8.3"/>
<circle cx="2015.1" cy="1241.5" r="8.3"/>
<circle cx="2016.7" cy="1240.1" r="8.3"/>
<circle cx="2018.3" cy="1241.1" r="8.3"/>
<circle cx="2019.9" cy="1240.3" r="8.3"/>
<circle cx="2021.5" cy="1241.0" r="8.3"/>
<circle cx="2023.1" cy="1240.5" r="8.3"/>
<circle cx="2024.7" cy="1240.1" r="8.3"/>
<circle cx="2026.3" cy="1240.5" r="8.3"/>
<circle cx="2027.9" cy="1239.9" r="8.3"/>
<circle cx="2029.5" cy="1239.8" r="8.3"/>
<circle cx="2031.0" cy="1239.4" r="8.3"/>
<circle cx="2032.6" cy="1239.9" r="8.3"/>
<circle cx="2034.2" cy="1240.0" r="8.3"/>
<circle cx="2035.8" cy="1240.1" r="8.3"/>
<circle cx="2037.4" cy="1239.5" r="8.3"/>
<circle cx="2039.0" cy="1239.9" r="8.3"/>
<circle cx="2040.6" cy="1239.3" r="8.3"/>
<circle cx="2042.2" cy="1239.2" r="8.3"/>
<circle cx="2043.8" cy="1239.3" r="8.3"/>
<circle cx="2045.4" cy="1239.4" r="8.3"/>
<circle cx="2047.0" cy="1238.8" r="8.3"/>
<circle cx="2048.6" cy="1238.7" r="8.3"/>
<circle cx="2050.2" cy="1238.6" r="8.3"/>
<circle cx="2051.7" cy="1238.6" r="8.3"/>
<circle cx="2053.3" cy="1238.1" r="8.3"/>
<circle cx="2054.9" cy="1238.8" r="8.3"/>
<circle cx="2056.5" cy="1238.0" r="8.3"/>
<circle cx="2058.1" cy="1238.2" r="8.3"/>
<circle cx="2059.7" cy="1237.6" r="8.3"/>
<circle cx="2061.3" cy="1237.8" r="8.3"/>
<circle cx="2062.9" cy="1237.6" r="8.3"/>
<circle cx="2064.5" cy="1237.0" r="8.3"/>
<circle cx="2066.1" cy="1237.7" r="8.3"/>
<circle cx="2067.7" cy="1236.7" r="8.3"/>
<circle cx="2069.3" cy="1236.9" r="8.3"/>
<circle cx="2070.9" cy="1236.2" r="8.3"/>
<circle cx="2072.4" cy="1235.1" r="8.3"/>
<circle cx="2074.0" cy="1234.8" r="8.3"/>
<circle cx="2075.6" cy="1234.6" r="8.3"/>
<circle cx="2077.2" cy="1233.9" r="8.3"/>
<circle cx="2078.8" cy="1233.2" r="8.3"/>
<circle cx="2080.4" cy="1232.3" r="8.3"/>
<circle cx="2082.0" cy="1230.9" r="8.3"/>
<circle cx="2083.6" cy="1230.6" r="8.3"/>
<circle cx="2085.2" cy="1228.8" r="8.3"/>
<circle cx="2086.8" cy="1228.8" r="8.3"/>
<circle cx="2088.4" cy="1227.3" r="8.3"/>
<circle cx="2090.0" cy="1226.3" r="8.3"/>
<circle cx="2091.6" cy="1225.3" r="8.3"/>
<circle cx="2093.1" cy="1224.3" r="8.3"/>
<circle cx="2094.7" cy="1222.3" r="8.3"/>
<circle cx="2096.3" cy="1220.7" r="8.3"/>
<circle cx="2097.9" cy="1219.5" r="8.3"/>
<circle cx="2099.5" cy="1217.5" r="8.3"/>
<circle cx="2101.1" cy="1216.4" r="8.3"/>
<circle cx="2102.7" cy="1215.8" r="8.3"/>
<circle cx="2104.3" cy="1213.1" r="8.3"/>
<circle cx="2105.9" cy="1212.1" r="8.3"/>
<circle cx="2107.5" cy="1209.4" r="8.3"/>
<circle cx="2109.1" cy="1208.1" r="8.3"/>
<circle cx="2110.7" cy="1205.7" r="8.3"/>
<circle cx="2112.3" cy="1203.6" r="8.3"/>
<circle cx="2113.8" cy="1201.8" r="8.3"/>
<circle cx="2115.4" cy="1200.3" r="8.3"/>
<circle cx="2117.0" cy="1198.0" r="8.3"/>
<circle cx="2118.6" cy="1196.6" r="8.3"/>
<circle cx="2120.2" cy="1194.7" r="8.3"/>
<circle cx="2121.8" cy="1194.0" r="8.3"/>
<circle cx="2123.4" cy="1192.6" r="8.3"/>
<circle cx="2125.0" cy="1192.2" r="8.3"/>
<circle cx="2126.6" cy="1191.5" r="8.3"/>
<circle cx="2128.2" cy="1192.2" r="8.3"/>
<circle cx="2129.8" cy="1191.3" r="8.3"/>
<circle cx="2131.4" cy="1193.0" r="8.3"/>
<circle cx="2133.0" cy="1194.8" r="8.3"/>
<circle cx="2134.5" cy="1195.8" r="8.3"/>
<circle cx="2136.1" cy="1197.2" r="8.3"/>
<circle cx="2137.7" cy="1198.9" r="8.3"/>
<circle cx="2139.3" cy="1199.9" r="8.3"/>
<circle cx="2140.9" cy="1202.1" r="8.3"/>
<circle cx="2142.5" cy="1204.7" r="8.3"/>
<circle cx="2144.1" cy="1205.8" r="8.3"/>
<circle cx="2145.7" cy="1206.6" r="8.3"/>
<circle cx="2147.3" cy="1208.2" r="8.3"/>
<circle cx="2148.9" cy="1209.9" r="8.3"/>
<circle cx="2150.5" cy="1211.7" r="8.3"/>
<circle cx="2152.1" cy="1212.1" r="8.3"/>
<circle cx="2153.7" cy="1213.3" r="8.3"/>
<circle cx="2155.2" cy="1215.0" r="8.3"/>
<circle cx="2156.8" cy="1216.0" r="8.3"/>
<circle cx="2158.4" cy="1216.6" r="8.3"/>
<circle cx="2160.0" cy="1217.3" r="8.3"/>
<circle cx="2161.6" cy="1218.0" r="8.3"/>
<circle cx="2163.2" cy="1219.3" r="8.3"/>
<circle cx="2164.8" cy="1219.5" r="8.3"/>
<circle cx="2166.4" cy="1221.5" r="8.3"/>
<circle cx="2168.0" cy="1221.8" r="8.3"/>
<circle cx="2169.6" cy="1223.1" r="8.3"/>
<circle cx="2171.2" cy="1224.6" r="8.3"/>
<circle cx="2172.8" cy="1225.1" r="8.3"/>
<circle cx="2174.3" cy="1224.9" r="8.3"/>
<circle cx="2175.9" cy="1226.4" r="8.3"/>
<circle cx="2177.5" cy="1227.1" r="8.3"/>
<circle cx="2179.1" cy="1226.8" r="8.3"/>
<circle cx="2180.7" cy="1227.0" r="8.3"/>
<circle cx="2182.3" cy="1227.6" r="8.3"/>
<circle cx="2183.9" cy="1227.3" r="8.3"/>
<circle cx="2185.5" cy="1228.7" r="8.3"/>
<circle cx="2187.1" cy="1227.4" r="8.3"/>
<circle cx="2188.7" cy="1228.1" r="8.3"/>
<circle cx="2190.3" cy="1228.6" r="8.3"/>
<circle cx="2191.9" cy="1228.8" r="8.3"/>
<circle cx="2193.5" cy="1229.0" r="8.3"/>
<circle cx="2195.0" cy="1229.1" r="8.3"/>
<circle cx="2196.6" cy="1228.9" r="8.3"/>
<circle cx="2198.2" cy="1229.5" r="8.3"/>
<circle cx="2199.8" cy="1228.1" r="8.3"/>
<circle cx="2201.4" cy="1228.9" r="8.3"/>
<circle cx="2203.0" cy="1228.6" r="8.3"/>
<circle cx="2204.6" cy="1228.9" r="8.3"/>
<circle cx="2206.2" cy="1228.8" r="8.3"/>
<circle cx="2207.8" cy="1228.3" r="8.3"/>
<circle cx="2209.4" cy="1228.3" r="8.3"/>
<circle cx="2211.0" cy="1228.8" r="8.3"/>
<circle cx="2212.6" cy="1228.5" r="8.3"/>
<circle cx="2214.2" cy="1227.9" r="8.3"/>
<circle cx="2215.7" cy="1228.8" r="8.3"/>
<circle cx="2217.3" cy="1228.6" r="8.3"/>
<circle cx="2218.9" cy="1226.9" r="8.3"/>
<circle cx="2220.5" cy="1227.3" r="8.3"/>
<circle cx="2222.1" cy="1227.8" r="8.3"/>
<circle cx="2223.7" cy="1226.7" r="8.3"/>
<circle cx="2225.3" cy="1226.1" r="8.3"/>
<circle cx="2226.9" cy="1225.4" r="8.3"/>
<circle cx="2228.5" cy="1224.7" r="8.3"/>
<circle cx="2230.1" cy="1224.0" r="8.3"/>
<circle cx="2231.7" cy="1223.0" r="8.3"/>
<circle cx="2233.3" cy="1222.5" r="8.3"/>
<circle cx="2234.9" cy="1220.9" r="8.3"/>
<circle cx="2236.4" cy="1219.6" r="8.3"/>
<circle cx="2238.0" cy="1217.8" r="8.3"/>
<circle cx="2239.6" cy="1216.3" r="8.3"/>
<circle cx="2241.2" cy="1213.5" r="8.3"/>
<circle cx="2242.8" cy="1211.0" r="8.3"/>
<circle cx="2244.4" cy="1208.6" r="8.3"/>
<circle cx="2246.0" cy="1205.3" r="8.3"/>
<circle cx="2247.6" cy="1202.2" r="8.3"/>
<circle cx="2249.2" cy="1198.5" r="8.3"/>
<circle cx="2250.8" cy="1194.3" r="8.3"/>
<circle cx="2252.4" cy="1190.1" r="8.3"/>
<circle cx="2254.0" cy="1185.9" r="8.3"/>
<circle cx="2255.6" cy="1182.7" r="8.3"/>
<circle cx="2257.1" cy="1178.3" r="8.3"/>
<circle cx="2258.7" cy="1175.6" r="8.3"/>
<circle cx="2260.3" cy="1171.8" r="8.3"/>
<circle cx="2261.9" cy="1168.9" r="8.3"/>
<circle cx="2263.5" cy="1167.6" r="8.3"/>
<circle cx="2265.1" cy="1167.6" r="8.3"/>
<circle cx="2266.7" cy="1169.4" r="8.3"/>
<circle cx="2268.3" cy="1171.7" r="8.3"/>
<circle cx="2269.9" cy="1175.9" r="8.3"/>
<circle cx="2271.5" cy="1178.9" r="8.3"/>
<circle cx="2273.1" cy="1182.2" r="8.3"/>
<circle cx="2274.7" cy="1186.4" r="8.3"/>
<circle cx="2276.3" cy="1189.1" r="8.3"/>
<circle cx="2277.8" cy="1193.2" r="8.3"/>
<circle cx="2279.4" cy="1196.8" r="8.3"/>
<circle cx="2281.0" cy="1199.5" r="8.3"/>
<circle cx="2282.6" cy="1201.2" r="8.3"/>
<circle cx="2284.2" cy="1203.3" r="8.3"/>
<circle cx="2285.8" cy="1205.9" r="8.3"/>
<circle cx="2287.4" cy="1207.0" r="8.3"/>
<circle cx="2289.0" cy="1208.5" r="8.3"/>
<circle cx="2290.6" cy="1210.4" r="8.3"/>
<circle cx="2292.2" cy="1212.4" r="8.3"/>
<circle cx="2293.8" cy="1213.3" r="8.3"/>
<circle cx="2295.4" cy="1214.1" r="8.3"/>
<circle cx="2297.0" cy="1215.4" r="8.3"/>
<circle cx="2298.5" cy="1216.7" r="8.3"/>
<circle cx="2300.1" cy="1217.3" r="8.3"/>
<circle cx="2301.7" cy="1218.2" r="8.3"/>
<circle cx="2303.3" cy="1219.6" r="8.3"/>
<circle cx="2304.9" cy="1220.0" r="8.3"/>
<circle cx="2306.5" cy="1221.2" r="8.3"/>
<circle cx="2308.1" cy="1222.0" r="8.3"/>
<circle cx="2309.7" cy="1223.5" r="8.3"/>
<circle cx="2311.3" cy="1222.9" r="8.3"/>
<circle cx="2312.9" cy="1223.7" r="8.3"/>
<circle cx="2314.5" cy="1224.3" r="8.3"/>
<circle cx="2316.1" cy="1225.0" r="8.3"/>
<circle cx="2317.7" cy="1225.8" r="8.3"/>
<circle cx="2319.2" cy="1225.6" r="8.3"/>
<circle cx="2320.8" cy="1225.8" r="8.3"/>
<circle cx="2322.4" cy="1225.8" r="8.3"/>
<circle cx="2324.0" cy="1226.4" r="8.3"/>
<circle cx="2325.6" cy="1227.2" r="8.3"/>
<circle cx="2327.2" cy="1227.2" r="8.3"/>
<circle cx="2328.8" cy="1227.0" r="8.3"/>
<circle cx="2330.4" cy="1227.4" r="8.3"/>
<circle cx="2332.0" cy="1227.8" r="8.3"/>
<circle cx="2333.6" cy="1228.1" r="8.3"/>
<circle cx="2335.2" cy="1227.8" r="8.3"/>
<circle cx="2336.8" cy="1228.1" r="8.3"/>
<circle cx="2338.4" cy="1227.6" r="8.3"/>
<circle cx="2339.9" cy="1228.0" r="8.3"/>
<circle cx="2341.5" cy="1229.3" r="8.3"/>
<circle cx="2343.1" cy="1227.9" r="8.3"/>
<circle cx="2344.7" cy="1228.7" r="8.3"/>
<circle cx="2346.3" cy="1229.1" r="8.3"/>
<circle cx="2347.9" cy="1228.9" r="8.3"/>
<circle cx="2349.5" cy="1228.9" r="8.3"/>
<circle cx="2351.1" cy="1229.3" r="8.3"/>
<circle cx="2352.7" cy="1229.4" r="8.3"/>
<circle cx="2354.3" cy="1229.5" r="8.3"/>
<circle cx="2355.9" cy="1228.8" r="8.3"/>
<circle cx="2357.5" cy="1229.6" r="8.3"/>
<circle cx="2359.1" cy="1229.4" r="8.3"/>
<circle cx="2360.6" cy="1229.6" r="8.3"/>
<circle cx="2362.2" cy="1230.1" r="8.3"/>
<circle cx="2363.8" cy="1230.3" r="8.3"/>
<circle cx="2365.4" cy="1230.5" r="8.3"/>
<circle cx="2367.0" cy="1230.0" r="8.3"/>
<circle cx="2368.6" cy="1230.7" r="8.3"/>
<circle cx="2370.2" cy="1230.9" r="8.3"/>
<circle cx="2371.8" cy="1230.9" r="8.3"/>
<circle cx="2373.4" cy="1231.1" r="8.3"/>
<circle cx="2375.0" cy="1230.5" r="8.3"/>
<circle cx="2376.6" cy="1230.6" r="8.3"/>
<circle cx="2378.2" cy="1231.1" r="8.3"/>
<circle cx="2379.8" cy="1230.3" r="8.3"/>
</g>
<polyline fill="none" stroke="#ff0000" stroke-width="4.2" stroke-linejoin="round" points="468.6,1243.0 470.2,1243.0 471.8,1243.0 473.4,1243.0 475.0,1243.0 476.6,1243.0 478.2,1243.0 479.7,1242.9 481.3,1242.9 482.9,1242.9 484.5,1242.9 486.1,1242.9 487.7,1242.9 489.3,1242.8 490.9,1242.8 492.5,1242.8 494.1,1242.8 495.7,1242.8 497.3,1242.7 498.9,1242.7 500.4,1242.7 502.0,1242.7 503.6,1242.6 505.2,1242.6 506.8,1242.6 508.4,1242.6 510.0,1242.5 511.6,1242.5 513.2,1242.5 514.8,1242.5 516.4,1242.4 518.0,1242.4 519.6,1242.4 521.1,1242.3 522.7,1242.3 524.3,1242.3 525.9,1242.2 527.5,1242.2 529.1,1242.1 530.7,1242.1 532.3,1242.1 533.9,1242.0 535.5,1242.0 537.1,1241.9 538.7,1241.9 540.3,1241.8 541.8,1241.8 543.4,1241.7 545.0,1241.7 546.6,1241.6 548.2,1241.6 549.8,1241.5 551.4,1241.4 553.0,1241.4 554.6,1241.3 556.2,1241.3 557.8,1241.2 559.4,1241.1 561.0,1241.1 562.5,1241.0 564.1,1241.0 565.7,1240.9 567.3,1240.8 568.9,1240.8 570.5,1240.7 572.1,1240.6 573.7,1240.6 575.3,1240.5 576.9,1240.4 578.5,1240.4 580.1,1240.3 581.6,1240.2 583.2,1240.1 584.8,1240.1 586.4,1240.0 588.0,1239.9 589.6,1239.8 591.2,1239.7 592.8,1239.6 594.4,1239.5 596.0,1239.4 597.6,1239.3 599.2,1239.2 600.8,1239.1 602.3,1238.9 603.9,1238.8 605.5,1238.6 607.1,1238.5 608.7,1238.3 610.3,1238.1 611.9,1238.0 613.5,1237.8 615.1,1237.6 616.7,1237.4 618.3,1237.2 619.9,1237.1 621.5,1236.9 623.0,1236.7 624.6,1236.6 626.2,1236.4 627.8,1236.2 629.4,1236.0 631.0,1235.8 632.6,1235.6 634.2,1235.4 635.8,1235.2 637.4,1235.0 639.0,1234.8 640.6,1234.5 642.2,1234.2 643.7,1233.9 645.3,1233.6 646.9,1233.3 648.5,1232.9 650.1,1232.5 651.7,1232.1 653.3,1231.6 654.9,1231.1 656.5,1230.6 658.1,1229.9 659.7,1229.1 661.3,1228.2 662.9,1227.2 664.4,1226.2 666.0,1225.2 667.6,1224.1 669.2,1223.0 670.8,1221.9 672.4,1220.7 674.0,1219.4 675.6,1217.9 677.2,1216.3 678.8,1214.4 680.4,1212.2 682.0,1209.8 683.6,1207.0 685.1,1203.7 686.7,1199.9 688.3,1195.8 689.9,1191.3 691.5,1186.8 693.1,1182.4 694.7,1178.1 696.3,1173.4 697.9,1168.1 699.5,1161.7 701.1,1153.6 702.7,1143.7 704.3,1129.9 705.8,1109.7 707.4,1077.9 709.0,1040.2 710.6,993.1 712.2,931.8 713.8,851.0 715.4,762.0 717.0,674.4 718.6,581.9 720.2,487.6 721.8,403.3 723.4,337.4 725.0,282.4 726.5,240.2 728.1,218.9 729.7,205.0 731.3,190.3 732.9,206.5 734.5,232.3 736.1,265.2 737.7,307.9 739.3,362.9 740.9,431.8 742.5,520.1 744.1,612.9 745.7,701.7 747.2,795.6 748.8,872.4 750.4,931.2 752.0,982.8 753.6,1020.4 755.2,1048.6 756.8,1071.7 758.4,1091.3 760.0,1110.4 761.6,1127.8 763.2,1142.1 764.8,1151.8 766.4,1158.7 767.9,1164.3 769.5,1169.0 771.1,1173.2 772.7,1177.1 774.3,1180.8 775.9,1184.3 777.5,1187.4 779.1,1190.2 780.7,1192.6 782.3,1194.7 783.9,1196.6 785.5,1198.3 787.1,1199.9 788.6,1201.4 790.2,1202.9 791.8,1204.4 793.4,1205.9 795.0,1207.3 796.6,1208.8 798.2,1210.1 799.8,1211.5 801.4,1212.8 803.0,1214.1 804.6,1215.4 806.2,1216.7 807.7,1217.9 809.3,1219.1 810.9,1220.2 812.5,1221.3 814.1,1222.2 815.7,1223.1 817.3,1224.0 818.9,1224.9 820.5,1225.7 822.1,1226.4 823.7,1227.1 825.3,1227.7 826.9,1228.2 828.4,1228.7 830.0,1229.2 831.6,1229.6 833.2,1230.0 834.8,1230.4 836.4,1230.7 838.0,1231.0 839.6,1231.3 841.2,1231.6 842.8,1231.9 844.4,1232.2 846.0,1232.5 847.6,1232.8 849.1,1233.1 850.7,1233.3 852.3,1233.6 853.9,1233.8 855.5,1234.0 857.1,1234.3 858.7,1234.5 860.3,1234.7 861.9,1234.9 863.5,1235.1 865.1,1235.2 866.7,1235.4 868.3,1235.6 869.8,1235.7 871.4,1235.9 873.0,1236.1 874.6,1236.2 876.2,1236.4 877.8,1236.5 879.4,1236.7 881.0,1236.8 882.6,1236.9 884.2,1237.0 885.8,1237.1 887.4,1237.2 889.0,1237.2 890.5,1237.3 892.1,1237.3 893.7,1237.3 895.3,1237.3 896.9,1237.3 898.5,1237.3 900.1,1237.3 901.7,1237.3 903.3,1237.3 904.9,1237.3 906.5,1237.3 908.1,1237.2 909.7,1237.1 911.2,1236.9 912.8,1236.6 914.4,1236.3 916.0,1236.0 917.6,1235.6 919.2,1234.9 920.8,1234.0 922.4,1232.9 924.0,1231.7 925.6,1230.5 927.2,1228.9 928.8,1227.0 930.4,1224.8 931.9,1222.5 933.5,1220.3 935.1,1218.1 936.7,1215.9 938.3,1213.6 939.9,1211.3 941.5,1209.0 943.1,1206.8 944.7,1204.8 946.3,1202.9 947.9,1201.1 949.5,1199.4 951.1,1198.1 952.6,1197.1 954.2,1196.3 955.8,1195.8 957.4,1195.6 959.0,1196.1 960.6,1197.0 962.2,1198.1 963.8,1199.7 965.4,1202.0 967.0,1204.8 968.6,1207.5 970.2,1210.1 971.8,1212.8 973.3,1215.6 974.9,1218.3 976.5,1220.8 978.1,1223.2 979.7,1225.5 981.3,1227.7 982.9,1229.8 984.5,1231.6 986.1,1233.1 987.7,1234.6 989.3,1236.0 990.9,1237.2 992.5,1238.3 994.0,1239.3 995.6,1240.1 997.2,1240.8 998.8,1241.5 1000.4,1242.1 1002.0,1242.7 1003.6,1243.2 1005.2,1243.7 1006.8,1244.1 1008.4,1244.5 1010.0,1244.9 1011.6,1245.3 1013.1,1245.6 1014.7,1245.9 1016.3,1246.2 1017.9,1246.5 1019.5,1246.7 1021.1,1247.0 1022.7,1247.2 1024.3,1247.4 1025.9,1247.7 1027.5,1247.9 1029.1,1248.2 1030.7,1248.4 1032.3,1248.7 1033.8,1249.0 1035.4,1249.3 1037.0,1249.6 1038.6,1249.8 1040.2,1250.0 1041.8,1250.2 1043.4,1250.4 1045.0,1250.5 1046.6,1250.7 1048.2,1250.8 1049.8,1250.9 1051.4,1251.1 1053.0,1251.2 1054.5,1251.3 1056.1,1251.4 1057.7,1251.6 1059.3,1251.7 1060.9,1251.8 1062.5,1251.9 1064.1,1252.0 1065.7,1252.1 1067.3,1252.2 1068.9,1252.3 1070.5,1252.4 1072.1,1252.4 1073.7,1252.5 1075.2,1252.6 1076.8,1252.7 1078.4,1252.8 1080.0,1252.9 1081.6,1252.9 1083.2,1253.0 1084.8,1253.1 1086.4,1253.1 1088.0,1253.2 1089.6,1253.3 1091.2,1253.4 1092.8,1253.4 1094.4,1253.5 1095.9,1253.6 1097.5,1253.6 1099.1,1253.7 1100.7,1253.8 1102.3,1253.8 1103.9,1253.9 1105.5,1254.0 1107.1,1254.0 1108.7,1254.1 1110.3,1254.2 1111.9,1254.2 1113.5,1254.3 1115.1,1254.3 1116.6,1254.4 1118.2,1254.4 1119.8,1254.5 1121.4,1254.5 1123.0,1254.6 1124.6,1254.6 1126.2,1254.6 1127.8,1254.7 1129.4,1254.7 1131.0,1254.7 1132.6,1254.8 1134.2,1254.8 1135.8,1254.8 1137.3,1254.8 1138.9,1254.8 1140.5,1254.9 1142.1,1254.9 1143.7,1254.9 1145.3,1254.9 1146.9,1254.9 1148.5,1254.9 1150.1,1254.9 1151.7,1255.0 1153.3,1255.0 1154.9,1255.0 1156.5,1255.0 1158.0,1255.0 1159.6,1255.0 1161.2,1255.0 1162.8,1255.0 1164.4,1255.0 1166.0,1255.1 1167.6,1255.1 1169.2,1255.1 1170.8,1255.1 1172.4,1255.1 1174.0,1255.1 1175.6,1255.1 1177.2,1255.1 1178.7,1255.1 1180.3,1255.1 1181.9,1255.1 1183.5,1255.1 1185.1,1255.1 1186.7,1255.1 1188.3,1255.1 1189.9,1255.0 1191.5,1255.0 1193.1,1255.0 1194.7,1254.9 1196.3,1254.9 1197.9,1254.8 1199.4,1254.8 1201.0,1254.7 1202.6,1254.7 1204.2,1254.6 1205.8,1254.6 1207.4,1254.5 1209.0,1254.4 1210.6,1254.4 1212.2,1254.3 1213.8,1254.2 1215.4,1254.1 1217.0,1254.1 1218.5,1254.0 1220.1,1253.9 1221.7,1253.9 1223.3,1253.8 1224.9,1253.7 1226.5,1253.7 1228.1,1253.6 1229.7,1253.5 1231.3,1253.5 1232.9,1253.4 1234.5,1253.4 1236.1,1253.3 1237.7,1253.2 1239.2,1253.2 1240.8,1253.1 1242.4,1253.0 1244.0,1253.0 1245.6,1252.9 1247.2,1252.8 1248.8,1252.8 1250.4,1252.7 1252.0,1252.6 1253.6,1252.6 1255.2,1252.5 1256.8,1252.4 1258.4,1252.4 1259.9,1252.3 1261.5,1252.2 1263.1,1252.2 1264.7,1252.1 1266.3,1252.1 1267.9,1252.0 1269.5,1251.9 1271.1,1251.9 1272.7,1251.8 1274.3,1251.7 1275.9,1251.7 1277.5,1251.6 1279.1,1251.6 1280.6,1251.5 1282.2,1251.4 1283.8,1251.4 1285.4,1251.3 1287.0,1251.3 1288.6,1251.2 1290.2,1251.2 1291.8,1251.1 1293.4,1251.0 1295.0,1251.0 1296.6,1250.9 1298.2,1250.9 1299.8,1250.8 1301.3,1250.8 1302.9,1250.7 1304.5,1250.6 1306.1,1250.6 1307.7,1250.5 1309.3,1250.5 1310.9,1250.4 1312.5,1250.4 1314.1,1250.3 1315.7,1250.3 1317.3,1250.2 1318.9,1250.2 1320.5,1250.1 1322.0,1250.1 1323.6,1250.1 1325.2,1250.0 1326.8,1250.0 1328.4,1249.9 1330.0,1249.9 1331.6,1249.9 1333.2,1249.8 1334.8,1249.8 1336.4,1249.7 1338.0,1249.7 1339.6,1249.7 1341.2,1249.6 1342.7,1249.6 1344.3,1249.6 1345.9,1249.5 1347.5,1249.5 1349.1,1249.5 1350.7,1249.4 1352.3,1249.4 1353.9,1249.4 1355.5,1249.3 1357.1,1249.3 1358.7,1249.3 1360.3,1249.3 1361.9,1249.2 1363.4,1249.2 1365.0,1249.2 1366.6,1249.1 1368.2,1249.1 1369.8,1249.1 1371.4,1249.0 1373.0,1249.0 1374.6,1249.0 1376.2,1248.9 1377.8,1248.9 1379.4,1248.9 1381.0,1248.9 1382.6,1248.8 1384.1,1248.8 1385.7,1248.8 1387.3,1248.8 1388.9,1248.7 1390.5,1248.7 1392.1,1248.7 1393.7,1248.6 1395.3,1248.6 1396.9,1248.6 1398.5,1248.5 1400.1,1248.5 1401.7,1248.5 1403.3,1248.4 1404.8,1248.3 1406.4,1248.3 1408.0,1248.2 1409.6,1248.2 1411.2,1248.1 1412.8,1248.0 1414.4,1247.9 1416.0,1247.9 1417.6,1247.8 1419.2,1247.7 1420.8,1247.6 1422.4,1247.5 1424.0,1247.4 1425.5,1247.3 1427.1,1247.2 1428.7,1247.2 1430.3,1247.1 1431.9,1247.0 1433.5,1246.9 1435.1,1246.8 1436.7,1246.7 1438.3,1246.6 1439.9,1246.5 1441.5,1246.5 1443.1,1246.4 1444.6,1246.3 1446.2,1246.3 1447.8,1246.2 1449.4,1246.1 1451.0,1246.1 1452.6,1246.0 1454.2,1245.9 1455.8,1245.9 1457.4,1245.8 1459.0,1245.7 1460.6,1245.7 1462.2,1245.6 1463.8,1245.5 1465.3,1245.5 1466.9,1245.4 1468.5,1245.3 1470.1,1245.3 1471.7,1245.2 1473.3,1245.2 1474.9,1245.1 1476.5,1245.0 1478.1,1245.0 1479.7,1244.9 1481.3,1244.9 1482.9,1244.8 1484.5,1244.8 1486.0,1244.8 1487.6,1244.7 1489.2,1244.7 1490.8,1244.7 1492.4,1244.6 1494.0,1244.6 1495.6,1244.6 1497.2,1244.6 1498.8,1244.6 1500.4,1244.6 1502.0,1244.5 1503.6,1244.5 1505.2,1244.5 1506.7,1244.5 1508.3,1244.5 1509.9,1244.5 1511.5,1244.5 1513.1,1244.5 1514.7,1244.5 1516.3,1244.4 1517.9,1244.4 1519.5,1244.4 1521.1,1244.4 1522.7,1244.4 1524.3,1244.4 1525.9,1244.4 1527.4,1244.4 1529.0,1244.4 1530.6,1244.4 1532.2,1244.4 1533.8,1244.4 1535.4,1244.4 1537.0,1244.3 1538.6,1244.3 1540.2,1244.3 1541.8,1244.3 1543.4,1244.3 1545.0,1244.3 1546.6,1244.3 1548.1,1244.3 1549.7,1244.2 1551.3,1244.2 1552.9,1244.2 1554.5,1244.2 1556.1,1244.2 1557.7,1244.2 1559.3,1244.2 1560.9,1244.2 1562.5,1244.1 1564.1,1244.1 1565.7,1244.1 1567.3,1244.1 1568.8,1244.1 1570.4,1244.1 1572.0,1244.1 1573.6,1244.0 1575.2,1244.0 1576.8,1244.0 1578.4,1244.0 1580.0,1244.0 1581.6,1243.9 1583.2,1243.9 1584.8,1243.9 1586.4,1243.9 1588.0,1243.8 1589.5,1243.8 1591.1,1243.8 1592.7,1243.8 1594.3,1243.7 1595.9,1243.7 1597.5,1243.6 1599.1,1243.5 1600.7,1243.5 1602.3,1243.4 1603.9,1243.3 1605.5,1243.2 1607.1,1243.2 1608.7,1243.1 1610.2,1243.0 1611.8,1242.9 1613.4,1242.8 1615.0,1242.7 1616.6,1242.6 1618.2,1242.5 1619.8,1242.4 1621.4,1242.3 1623.0,1242.1 1624.6,1242.0 1626.2,1241.9 1627.8,1241.8 1629.4,1241.7 1630.9,1241.5 1632.5,1241.4 1634.1,1241.2 1635.7,1241.1 1637.3,1240.9 1638.9,1240.7 1640.5,1240.5 1642.1,1240.3 1643.7,1240.1 1645.3,1239.9 1646.9,1239.7 1648.5,1239.4 1650.0,1239.1 1651.6,1238.8 1653.2,1238.4 1654.8,1238.0 1656.4,1237.6 1658.0,1237.1 1659.6,1236.6 1661.2,1236.1 1662.8,1235.6 1664.4,1235.0 1666.0,1234.2 1667.6,1233.5 1669.2,1232.6 1670.7,1231.7 1672.3,1230.7 1673.9,1229.7 1675.5,1228.5 1677.1,1227.2 1678.7,1225.8 1680.3,1224.3 1681.9,1222.9 1683.5,1221.4 1685.1,1219.9 1686.7,1218.2 1688.3,1216.5 1689.9,1214.8 1691.4,1213.2 1693.0,1211.8 1694.6,1210.6 1696.2,1209.4 1697.8,1208.3 1699.4,1207.5 1701.0,1207.3 1702.6,1207.7 1704.2,1208.6 1705.8,1209.7 1707.4,1210.9 1709.0,1212.1 1710.6,1213.6 1712.1,1215.2 1713.7,1216.9 1715.3,1218.6 1716.9,1220.3 1718.5,1221.7 1720.1,1223.2 1721.7,1224.7 1723.3,1226.2 1724.9,1227.5 1726.5,1228.8 1728.1,1230.0 1729.7,1231.0 1731.3,1231.9 1732.8,1232.9 1734.4,1233.7 1736.0,1234.5 1737.6,1235.2 1739.2,1235.8 1740.8,1236.2 1742.4,1236.6 1744.0,1236.9 1745.6,1237.3 1747.2,1237.5 1748.8,1237.8 1750.4,1238.1 1752.0,1238.3 1753.5,1238.5 1755.1,1238.8 1756.7,1239.0 1758.3,1239.2 1759.9,1239.3 1761.5,1239.5 1763.1,1239.6 1764.7,1239.8 1766.3,1239.9 1767.9,1240.0 1769.5,1240.1 1771.1,1240.2 1772.7,1240.3 1774.2,1240.4 1775.8,1240.5 1777.4,1240.6 1779.0,1240.7 1780.6,1240.8 1782.2,1240.8 1783.8,1240.9 1785.4,1241.0 1787.0,1241.1 1788.6,1241.1 1790.2,1241.2 1791.8,1241.3 1793.4,1241.3 1794.9,1241.4 1796.5,1241.5 1798.1,1241.5 1799.7,1241.6 1801.3,1241.6 1802.9,1241.7 1804.5,1241.7 1806.1,1241.8 1807.7,1241.8 1809.3,1241.9 1810.9,1241.9 1812.5,1242.0 1814.1,1242.0 1815.6,1242.1 1817.2,1242.1 1818.8,1242.1 1820.4,1242.2 1822.0,1242.2 1823.6,1242.3 1825.2,1242.3 1826.8,1242.3 1828.4,1242.4 1830.0,1242.4 1831.6,1242.4 1833.2,1242.5 1834.8,1242.5 1836.3,1242.5 1837.9,1242.6 1839.5,1242.6 1841.1,1242.6 1842.7,1242.7 1844.3,1242.7 1845.9,1242.8 1847.5,1242.8 1849.1,1242.8 1850.7,1242.9 1852.3,1242.9 1853.9,1243.0 1855.4,1243.0 1857.0,1243.1 1858.6,1243.1 1860.2,1243.2 1861.8,1243.2 1863.4,1243.3 1865.0,1243.3 1866.6,1243.4 1868.2,1243.5 1869.8,1243.5 1871.4,1243.6 1873.0,1243.6 1874.6,1243.7 1876.1,1243.7 1877.7,1243.8 1879.3,1243.8 1880.9,1243.9 1882.5,1243.9 1884.1,1244.0 1885.7,1244.0 1887.3,1244.1 1888.9,1244.1 1890.5,1244.2 1892.1,1244.2 1893.7,1244.3 1895.3,1244.3 1896.8,1244.4 1898.4,1244.4 1900.0,1244.4 1901.6,1244.5 1903.2,1244.5 1904.8,1244.5 1906.4,1244.6 1908.0,1244.6 1909.6,1244.6 1911.2,1244.7 1912.8,1244.7 1914.4,1244.8 1916.0,1244.8 1917.5,1244.8 1919.1,1244.9 1920.7,1244.9 1922.3,1244.9 1923.9,1245.0 1925.5,1245.0 1927.1,1245.0 1928.7,1245.0 1930.3,1245.1 1931.9,1245.1 1933.5,1245.1 1935.1,1245.1 1936.7,1245.1 1938.2,1245.2 1939.8,1245.2 1941.4,1245.2 1943.0,1245.2 1944.6,1245.2 1946.2,1245.2 1947.8,1245.2 1949.4,1245.2 1951.0,1245.2 1952.6,1245.2 1954.2,1245.2 1955.8,1245.2 1957.4,1245.1 1958.9,1245.1 1960.5,1245.1 1962.1,1245.1 1963.7,1245.1 1965.3,1245.0 1966.9,1245.0 1968.5,1245.0 1970.1,1245.0 1971.7,1244.9 1973.3,1244.9 1974.9,1244.9 1976.5,1244.8 1978.1,1244.8 1979.6,1244.8 1981.2,1244.7 1982.8,1244.7 1984.4,1244.6 1986.0,1244.6 1987.6,1244.5 1989.2,1244.4 1990.8,1244.3 1992.4,1244.3 1994.0,1244.2 1995.6,1244.1 1997.2,1244.0 1998.8,1243.9 2000.3,1243.8 2001.9,1243.7 2003.5,1243.7 2005.1,1243.6 2006.7,1243.5 2008.3,1243.4 2009.9,1243.3 2011.5,1243.2 2013.1,1243.1 2014.7,1243.0 2016.3,1242.9 2017.9,1242.8 2019.5,1242.7 2021.0,1242.7 2022.6,1242.6 2024.2,1242.5 2025.8,1242.4 2027.4,1242.3 2029.0,1242.1 2030.6,1242.0 2032.2,1241.9 2033.8,1241.8 2035.4,1241.7 2037.0,1241.6 2038.6,1241.5 2040.2,1241.4 2041.7,1241.3 2043.3,1241.2 2044.9,1241.1 2046.5,1241.0 2048.1,1240.9 2049.7,1240.8 2051.3,1240.7 2052.9,1240.6 2054.5,1240.4 2056.1,1240.3 2057.7,1240.2 2059.3,1240.0 2060.9,1239.8 2062.4,1239.6 2064.0,1239.3 2065.6,1238.9 2067.2,1238.6 2068.8,1238.1 2070.4,1237.7 2072.0,1237.2 2073.6,1236.7 2075.2,1236.1 2076.8,1235.5 2078.4,1234.8 2080.0,1233.9 2081.5,1233.0 2083.1,1232.0 2084.7,1231.0 2086.3,1229.9 2087.9,1228.7 2089.5,1227.6 2091.1,1226.4 2092.7,1225.1 2094.3,1223.7 2095.9,1222.2 2097.5,1220.6 2099.1,1219.0 2100.7,1217.4 2102.2,1215.8 2103.8,1214.1 2105.4,1212.4 2107.0,1210.7 2108.6,1208.7 2110.2,1206.8 2111.8,1204.8 2113.4,1202.9 2115.0,1201.3 2116.6,1199.8 2118.2,1198.6 2119.8,1197.3 2121.4,1196.1 2122.9,1195.1 2124.5,1194.2 2126.1,1193.7 2127.7,1193.5 2129.3,1193.8 2130.9,1194.4 2132.5,1195.4 2134.1,1196.5 2135.7,1197.7 2137.3,1199.0 2138.9,1200.2 2140.5,1201.6 2142.1,1203.1 2143.6,1204.8 2145.2,1206.5 2146.8,1208.3 2148.4,1209.9 2150.0,1211.4 2151.6,1212.8 2153.2,1214.3 2154.8,1215.7 2156.4,1217.1 2158.0,1218.4 2159.6,1219.7 2161.2,1220.9 2162.8,1222.0 2164.3,1223.1 2165.9,1224.0 2167.5,1224.9 2169.1,1225.8 2170.7,1226.7 2172.3,1227.5 2173.9,1228.3 2175.5,1229.0 2177.1,1229.5 2178.7,1230.0 2180.3,1230.3 2181.9,1230.5 2183.5,1230.8 2185.0,1231.0 2186.6,1231.2 2188.2,1231.3 2189.8,1231.5 2191.4,1231.6 2193.0,1231.7 2194.6,1231.7 2196.2,1231.7 2197.8,1231.7 2199.4,1231.6 2201.0,1231.5 2202.6,1231.4 2204.2,1231.3 2205.7,1231.2 2207.3,1231.1 2208.9,1231.0 2210.5,1230.8 2212.1,1230.7 2213.7,1230.5 2215.3,1230.2 2216.9,1229.9 2218.5,1229.6 2220.1,1229.2 2221.7,1228.8 2223.3,1228.4 2224.9,1227.9 2226.4,1227.4 2228.0,1226.7 2229.6,1225.9 2231.2,1224.9 2232.8,1223.8 2234.4,1222.6 2236.0,1221.2 2237.6,1219.7 2239.2,1217.4 2240.8,1214.6 2242.4,1211.4 2244.0,1208.0 2245.6,1204.7 2247.1,1201.4 2248.7,1197.9 2250.3,1194.2 2251.9,1190.5 2253.5,1187.1 2255.1,1184.1 2256.7,1181.1 2258.3,1178.0 2259.9,1175.0 2261.5,1172.5 2263.1,1170.8 2264.7,1170.2 2266.3,1170.9 2267.8,1172.6 2269.4,1175.1 2271.0,1178.0 2272.6,1181.2 2274.2,1184.2 2275.8,1187.2 2277.4,1190.7 2279.0,1194.4 2280.6,1198.2 2282.2,1201.6 2283.8,1204.6 2285.4,1207.5 2286.9,1210.2 2288.5,1212.7 2290.1,1215.0 2291.7,1216.8 2293.3,1218.2 2294.9,1219.4 2296.5,1220.5 2298.1,1221.6 2299.7,1222.5 2301.3,1223.4 2302.9,1224.1 2304.5,1224.8 2306.1,1225.3 2307.6,1225.8 2309.2,1226.2 2310.8,1226.5 2312.4,1226.9 2314.0,1227.2 2315.6,1227.5 2317.2,1227.8 2318.8,1228.1 2320.4,1228.3 2322.0,1228.6 2323.6,1228.8 2325.2,1229.0 2326.8,1229.1 2328.3,1229.3 2329.9,1229.4 2331.5,1229.5 2333.1,1229.6 2334.7,1229.7 2336.3,1229.8 2337.9,1229.9 2339.5,1230.0 2341.1,1230.1 2342.7,1230.2 2344.3,1230.3 2345.9,1230.3 2347.5,1230.4 2349.0,1230.5 2350.6,1230.5 2352.2,1230.6 2353.8,1230.6 2355.4,1230.7 2357.0,1230.8 2358.6,1230.8 2360.2,1230.9 2361.8,1231.0 2363.4,1231.1 2365.0,1231.1 2366.6,1231.2 2368.2,1231.3 2369.7,1231.3 2371.3,1231.4 2372.9,1231.5 2374.5,1231.5 2376.1,1231.6 2377.7,1231.6 2379.3,1231.7"/>
<polyline fill="none" stroke="#0000ff" stroke-width="4.4" stroke-linejoin="round" points="468.6,1419.0 470.2,1419.0 471.8,1419.0 473.4,1419.0 475.0,1419.0 476.6,1419.0 478.2,1419.0 479.7,1419.0 481.3,1418.9 482.9,1418.9 484.5,1418.9 486.1,1418.9 487.7,1418.9 489.3,1418.9 490.9,1418.9 492.5,1418.9 494.1,1418.9 495.7,1418.9 497.3,1418.9 498.9,1418.9 500.4,1418.9 502.0,1418.9 503.6,1418.9 505.2,1418.8 506.8,1418.8 508.4,1418.8 510.0,1418.8 511.6,1418.8 513.2,1418.8 514.8,1418.8 516.4,1418.8 518.0,1418.8 519.6,1418.8 521.1,1418.8 522.7,1418.8 524.3,1418.8 525.9,1418.8 527.5,1418.7 529.1,1418.7 530.7,1418.7 532.3,1418.7 533.9,1418.7 535.5,1418.7 537.1,1418.7 538.7,1418.7 540.3,1418.7 541.8,1418.7 543.4,1418.7 545.0,1418.7 546.6,1418.7 548.2,1418.7 549.8,1418.6 551.4,1418.6 553.0,1418.6 554.6,1418.6 556.2,1418.6 557.8,1418.6 559.4,1418.6 561.0,1418.6 562.5,1418.6 564.1,1418.6 565.7,1418.6 567.3,1418.6 568.9,1418.6 570.5,1418.5 572.1,1418.5 573.7,1418.5 575.3,1418.5 576.9,1418.5 578.5,1418.5 580.1,1418.5 581.6,1418.5 583.2,1418.5 584.8,1418.5 586.4,1418.4 588.0,1418.4 589.6,1418.4 591.2,1418.4 592.8,1418.4 594.4,1418.4 596.0,1418.4 597.6,1418.4 599.2,1418.4 600.8,1418.3 602.3,1418.3 603.9,1418.3 605.5,1418.3 607.1,1418.3 608.7,1418.3 610.3,1418.3 611.9,1418.3 613.5,1418.3 615.1,1418.3 616.7,1418.3 618.3,1418.3 619.9,1418.2 621.5,1418.2 623.0,1418.2 624.6,1418.2 626.2,1418.2 627.8,1418.2 629.4,1418.2 631.0,1418.2 632.6,1418.2 634.2,1418.2 635.8,1418.2 637.4,1418.2 639.0,1418.2 640.6,1418.2 642.2,1418.2 643.7,1418.2 645.3,1418.2 646.9,1418.2 648.5,1418.2 650.1,1418.2 651.7,1418.2 653.3,1418.2 654.9,1418.2 656.5,1418.2 658.1,1418.2 659.7,1418.6 661.3,1419.3 662.9,1420.1 664.4,1420.9 666.0,1421.6 667.6,1422.0 669.2,1422.2 670.8,1422.2 672.4,1422.3 674.0,1422.3 675.6,1422.4 677.2,1422.4 678.8,1422.5 680.4,1422.6 682.0,1423.0 683.6,1424.2 685.1,1425.8 686.7,1427.6 688.3,1429.2 689.9,1430.4 691.5,1430.8 693.1,1430.1 694.7,1428.5 696.3,1426.2 697.9,1423.8 699.5,1421.5 701.1,1419.7 702.7,1418.7 704.3,1419.6 705.8,1423.0 707.4,1427.8 709.0,1432.8 710.6,1436.9 712.2,1438.6 713.8,1435.7 715.4,1427.6 717.0,1416.6 718.6,1405.1 720.2,1395.2 721.8,1389.3 723.4,1389.5 725.0,1395.5 726.5,1405.0 728.1,1416.0 729.7,1426.3 731.3,1433.9 732.9,1436.6 734.5,1431.0 736.1,1419.1 737.7,1405.7 739.3,1395.6 740.9,1393.4 742.5,1399.3 744.1,1409.7 745.7,1421.1 747.2,1429.9 748.8,1432.8 750.4,1430.3 752.0,1425.1 753.6,1418.3 755.2,1411.0 756.8,1404.4 758.4,1399.8 760.0,1398.3 761.6,1399.9 763.2,1403.2 764.8,1407.2 766.4,1411.1 767.9,1413.7 769.5,1414.3 771.1,1414.1 772.7,1413.8 774.3,1413.4 775.9,1412.9 777.5,1412.5 779.1,1412.1 780.7,1411.9 782.3,1411.9 783.9,1412.2 785.5,1412.7 787.1,1413.4 788.6,1414.2 790.2,1415.0 791.8,1415.8 793.4,1416.4 795.0,1416.9 796.6,1417.2 798.2,1417.1 799.8,1416.8 801.4,1416.4 803.0,1416.0 804.6,1415.8 806.2,1416.0 807.7,1416.5 809.3,1417.0 810.9,1417.2 812.5,1417.3 814.1,1417.3 815.7,1417.3 817.3,1417.4 818.9,1417.4 820.5,1417.4 822.1,1417.5 823.7,1417.5 825.3,1417.5 826.9,1417.5 828.4,1417.6 830.0,1417.6 831.6,1417.6 833.2,1417.6 834.8,1417.6 836.4,1417.7 838.0,1417.7 839.6,1417.7 841.2,1417.7 842.8,1417.7 844.4,1417.7 846.0,1417.7 847.6,1417.7 849.1,1417.7 850.7,1417.7 852.3,1417.8 853.9,1417.8 855.5,1417.8 857.1,1417.8 858.7,1417.8 860.3,1417.8 861.9,1417.8 863.5,1417.8 865.1,1417.8 866.7,1417.8 868.3,1417.8 869.8,1417.9 871.4,1417.9 873.0,1417.9 874.6,1417.9 876.2,1417.9 877.8,1417.9 879.4,1417.9 881.0,1417.9 882.6,1417.9 884.2,1417.9 885.8,1417.9 887.4,1417.9 889.0,1417.9 890.5,1417.9 892.1,1417.9 893.7,1417.9 895.3,1417.9 896.9,1417.9 898.5,1417.9 900.1,1417.9 901.7,1417.9 903.3,1418.0 904.9,1418.0 906.5,1418.0 908.1,1418.0 909.7,1418.0 911.2,1418.0 912.8,1418.0 914.4,1418.0 916.0,1418.0 917.6,1418.0 919.2,1418.1 920.8,1418.1 922.4,1418.1 924.0,1418.1 925.6,1418.3 927.2,1418.6 928.8,1419.1 930.4,1419.6 931.9,1420.1 933.5,1420.7 935.1,1421.2 936.7,1421.5 938.3,1421.8 939.9,1421.8 941.5,1421.5 943.1,1421.0 944.7,1420.3 946.3,1419.4 947.9,1418.4 949.5,1417.4 951.1,1416.5 952.6,1415.7 954.2,1415.0 955.8,1414.6 957.4,1414.4 959.0,1414.6 960.6,1415.2 962.2,1416.1 963.8,1417.2 965.4,1418.4 967.0,1419.6 968.6,1420.7 970.2,1421.5 971.8,1422.1 973.3,1422.3 974.9,1422.2 976.5,1421.8 978.1,1421.3 979.7,1420.6 981.3,1419.9 982.9,1419.2 984.5,1418.5 986.1,1417.9 987.7,1417.4 989.3,1417.1 990.9,1417.0 992.5,1416.9 994.0,1416.8 995.6,1416.7 997.2,1416.6 998.8,1416.6 1000.4,1416.5 1002.0,1416.5 1003.6,1416.4 1005.2,1416.3 1006.8,1416.3 1008.4,1416.3 1010.0,1416.2 1011.6,1416.2 1013.1,1416.1 1014.7,1416.1 1016.3,1416.1 1017.9,1416.1 1019.5,1416.0 1021.1,1416.0 1022.7,1416.0 1024.3,1416.0 1025.9,1416.0 1027.5,1416.0 1029.1,1416.0 1030.7,1416.1 1032.3,1416.3 1033.8,1416.4 1035.4,1416.6 1037.0,1416.8 1038.6,1417.0 1040.2,1417.2 1041.8,1417.4 1043.4,1417.5 1045.0,1417.6 1046.6,1417.6 1048.2,1417.7 1049.8,1417.7 1051.4,1417.8 1053.0,1417.8 1054.5,1417.9 1056.1,1417.9 1057.7,1417.9 1059.3,1418.0 1060.9,1418.0 1062.5,1418.0 1064.1,1418.1 1065.7,1418.1 1067.3,1418.1 1068.9,1418.2 1070.5,1418.2 1072.1,1418.2 1073.7,1418.2 1075.2,1418.2 1076.8,1418.3 1078.4,1418.3 1080.0,1418.3 1081.6,1418.3 1083.2,1418.4 1084.8,1418.4 1086.4,1418.4 1088.0,1418.4 1089.6,1418.4 1091.2,1418.5 1092.8,1418.5 1094.4,1418.5 1095.9,1418.5 1097.5,1418.6 1099.1,1418.6 1100.7,1418.6 1102.3,1418.6 1103.9,1418.7 1105.5,1418.7 1107.1,1418.7 1108.7,1418.8 1110.3,1418.8 1111.9,1418.8 1113.5,1418.9 1115.1,1418.9 1116.6,1418.9 1118.2,1419.0 1119.8,1419.0 1121.4,1419.1 1123.0,1419.1 1124.6,1419.1 1126.2,1419.2 1127.8,1419.2 1129.4,1419.2 1131.0,1419.3 1132.6,1419.3 1134.2,1419.3 1135.8,1419.4 1137.3,1419.4 1138.9,1419.4 1140.5,1419.5 1142.1,1419.5 1143.7,1419.5 1145.3,1419.6 1146.9,1419.6 1148.5,1419.6 1150.1,1419.6 1151.7,1419.7 1153.3,1419.7 1154.9,1419.7 1156.5,1419.7 1158.0,1419.7 1159.6,1419.8 1161.2,1419.8 1162.8,1419.8 1164.4,1419.8 1166.0,1419.8 1167.6,1419.8 1169.2,1419.8 1170.8,1419.8 1172.4,1419.8 1174.0,1419.8 1175.6,1419.8 1177.2,1419.8 1178.7,1419.8 1180.3,1419.8 1181.9,1419.8 1183.5,1419.8 1185.1,1419.8 1186.7,1419.8 1188.3,1419.8 1189.9,1419.8 1191.5,1419.8 1193.1,1419.8 1194.7,1419.8 1196.3,1419.8 1197.9,1419.8 1199.4,1419.8 1201.0,1419.8 1202.6,1419.8 1204.2,1419.8 1205.8,1419.8 1207.4,1419.7 1209.0,1419.7 1210.6,1419.7 1212.2,1419.7 1213.8,1419.7 1215.4,1419.7 1217.0,1419.7 1218.5,1419.7 1220.1,1419.7 1221.7,1419.7 1223.3,1419.7 1224.9,1419.7 1226.5,1419.7 1228.1,1419.7 1229.7,1419.7 1231.3,1419.7 1232.9,1419.7 1234.5,1419.7 1236.1,1419.7 1237.7,1419.7 1239.2,1419.6 1240.8,1419.6 1242.4,1419.6 1244.0,1419.6 1245.6,1419.6 1247.2,1419.6 1248.8,1419.6 1250.4,1419.6 1252.0,1419.6 1253.6,1419.6 1255.2,1419.6 1256.8,1419.6 1258.4,1419.6 1259.9,1419.6 1261.5,1419.6 1263.1,1419.6 1264.7,1419.5 1266.3,1419.5 1267.9,1419.5 1269.5,1419.5 1271.1,1419.5 1272.7,1419.5 1274.3,1419.5 1275.9,1419.5 1277.5,1419.5 1279.1,1419.5 1280.6,1419.5 1282.2,1419.5 1283.8,1419.5 1285.4,1419.5 1287.0,1419.5 1288.6,1419.4 1290.2,1419.4 1291.8,1419.4 1293.4,1419.4 1295.0,1419.4 1296.6,1419.4 1298.2,1419.4 1299.8,1419.4 1301.3,1419.4 1302.9,1419.4 1304.5,1419.4 1306.1,1419.4 1307.7,1419.4 1309.3,1419.4 1310.9,1419.4 1312.5,1419.3 1314.1,1419.3 1315.7,1419.3 1317.3,1419.3 1318.9,1419.3 1320.5,1419.3 1322.0,1419.3 1323.6,1419.3 1325.2,1419.3 1326.8,1419.3 1328.4,1419.3 1330.0,1419.3 1331.6,1419.3 1333.2,1419.2 1334.8,1419.2 1336.4,1419.2 1338.0,1419.2 1339.6,1419.2 1341.2,1419.2 1342.7,1419.2 1344.3,1419.2 1345.9,1419.2 1347.5,1419.2 1349.1,1419.2 1350.7,1419.1 1352.3,1419.1 1353.9,1419.1 1355.5,1419.1 1357.1,1419.1 1358.7,1419.1 1360.3,1419.1 1361.9,1419.1 1363.4,1419.1 1365.0,1419.1 1366.6,1419.1 1368.2,1419.0 1369.8,1419.0 1371.4,1419.0 1373.0,1419.0 1374.6,1419.0 1376.2,1419.0 1377.8,1419.0 1379.4,1419.0 1381.0,1419.0 1382.6,1419.0 1384.1,1418.9 1385.7,1418.9 1387.3,1418.9 1388.9,1418.9 1390.5,1418.9 1392.1,1418.9 1393.7,1418.9 1395.3,1418.9 1396.9,1418.9 1398.5,1418.9 1400.1,1418.9 1401.7,1418.8 1403.3,1418.8 1404.8,1418.8 1406.4,1418.8 1408.0,1418.8 1409.6,1418.8 1411.2,1418.8 1412.8,1418.8 1414.4,1418.8 1416.0,1418.8 1417.6,1418.8 1419.2,1418.7 1420.8,1418.7 1422.4,1418.7 1424.0,1418.7 1425.5,1418.7 1427.1,1418.7 1428.7,1418.7 1430.3,1418.7 1431.9,1418.7 1433.5,1418.7 1435.1,1418.7 1436.7,1418.7 1438.3,1418.7 1439.9,1418.6 1441.5,1418.6 1443.1,1418.6 1444.6,1418.6 1446.2,1418.6 1447.8,1418.6 1449.4,1418.6 1451.0,1418.6 1452.6,1418.6 1454.2,1418.6 1455.8,1418.6 1457.4,1418.6 1459.0,1418.6 1460.6,1418.6 1462.2,1418.5 1463.8,1418.5 1465.3,1418.5 1466.9,1418.5 1468.5,1418.5 1470.1,1418.5 1471.7,1418.5 1473.3,1418.5 1474.9,1418.5 1476.5,1418.5 1478.1,1418.5 1479.7,1418.5 1481.3,1418.5 1482.9,1418.5 1484.5,1418.4 1486.0,1418.4 1487.6,1418.4 1489.2,1418.4 1490.8,1418.4 1492.4,1418.4 1494.0,1418.4 1495.6,1418.4 1497.2,1418.4 1498.8,1418.4 1500.4,1418.4 1502.0,1418.4 1503.6,1418.4 1505.2,1418.4 1506.7,1418.3 1508.3,1418.3 1509.9,1418.3 1511.5,1418.3 1513.1,1418.3 1514.7,1418.3 1516.3,1418.3 1517.9,1418.3 1519.5,1418.3 1521.1,1418.3 1522.7,1418.3 1524.3,1418.3 1525.9,1418.3 1527.4,1418.3 1529.0,1418.3 1530.6,1418.3 1532.2,1418.2 1533.8,1418.2 1535.4,1418.2 1537.0,1418.2 1538.6,1418.2 1540.2,1418.2 1541.8,1418.2 1543.4,1418.2 1545.0,1418.2 1546.6,1418.2 1548.1,1418.2 1549.7,1418.2 1551.3,1418.2 1552.9,1418.2 1554.5,1418.2 1556.1,1418.2 1557.7,1418.2 1559.3,1418.2 1560.9,1418.2 1562.5,1418.1 1564.1,1418.1 1565.7,1418.1 1567.3,1418.1 1568.8,1418.1 1570.4,1418.1 1572.0,1418.1 1573.6,1418.1 1575.2,1418.1 1576.8,1418.1 1578.4,1418.1 1580.0,1418.1 1581.6,1418.1 1583.2,1418.1 1584.8,1418.1 1586.4,1418.1 1588.0,1418.1 1589.5,1418.1 1591.1,1418.1 1592.7,1418.1 1594.3,1418.1 1595.9,1418.1 1597.5,1418.1 1599.1,1418.1 1600.7,1418.1 1602.3,1418.1 1603.9,1418.1 1605.5,1418.1 1607.1,1418.1 1608.7,1418.1 1610.2,1418.1 1611.8,1418.1 1613.4,1418.1 1615.0,1418.1 1616.6,1418.1 1618.2,1418.1 1619.8,1418.1 1621.4,1418.1 1623.0,1418.1 1624.6,1418.1 1626.2,1418.1 1627.8,1418.1 1629.4,1418.1 1630.9,1418.1 1632.5,1418.1 1634.1,1418.1 1635.7,1418.1 1637.3,1418.1 1638.9,1418.1 1640.5,1418.1 1642.1,1418.1 1643.7,1418.1 1645.3,1418.1 1646.9,1418.1 1648.5,1418.1 1650.0,1418.1 1651.6,1418.1 1653.2,1418.1 1654.8,1418.1 1656.4,1418.1 1658.0,1418.1 1659.6,1418.1 1661.2,1418.1 1662.8,1418.1 1664.4,1418.1 1666.0,1418.1 1667.6,1418.1 1669.2,1418.1 1670.7,1418.1 1672.3,1418.1 1673.9,1418.1 1675.5,1418.1 1677.1,1418.1 1678.7,1418.1 1680.3,1418.1 1681.9,1418.1 1683.5,1418.1 1685.1,1418.1 1686.7,1418.1 1688.3,1418.1 1689.9,1418.1 1691.4,1418.1 1693.0,1418.1 1694.6,1418.2 1696.2,1418.3 1697.8,1418.4 1699.4,1418.5 1701.0,1418.6 1702.6,1418.8 1704.2,1419.1 1705.8,1419.4 1707.4,1419.7 1709.0,1419.9 1710.6,1420.1 1712.1,1420.2 1713.7,1420.1 1715.3,1419.9 1716.9,1419.5 1718.5,1419.1 1720.1,1418.6 1721.7,1418.2 1723.3,1417.8 1724.9,1417.5 1726.5,1417.3 1728.1,1417.1 1729.7,1416.8 1731.3,1416.6 1732.8,1416.5 1734.4,1416.3 1736.0,1416.2 1737.6,1416.2 1739.2,1416.2 1740.8,1416.3 1742.4,1416.4 1744.0,1416.6 1745.6,1416.7 1747.2,1416.9 1748.8,1417.1 1750.4,1417.3 1752.0,1417.5 1753.5,1417.6 1755.1,1417.8 1756.7,1417.9 1758.3,1418.0 1759.9,1418.0 1761.5,1418.0 1763.1,1418.0 1764.7,1418.0 1766.3,1418.0 1767.9,1418.0 1769.5,1418.0 1771.1,1418.0 1772.7,1418.0 1774.2,1418.0 1775.8,1418.1 1777.4,1418.1 1779.0,1418.1 1780.6,1418.1 1782.2,1418.1 1783.8,1418.1 1785.4,1418.1 1787.0,1418.1 1788.6,1418.1 1790.2,1418.1 1791.8,1418.1 1793.4,1418.1 1794.9,1418.1 1796.5,1418.1 1798.1,1418.1 1799.7,1418.1 1801.3,1418.1 1802.9,1418.1 1804.5,1418.1 1806.1,1418.1 1807.7,1418.1 1809.3,1418.1 1810.9,1418.1 1812.5,1418.1 1814.1,1418.1 1815.6,1418.1 1817.2,1418.1 1818.8,1418.1 1820.4,1418.2 1822.0,1418.2 1823.6,1418.2 1825.2,1418.2 1826.8,1418.2 1828.4,1418.2 1830.0,1418.2 1831.6,1418.2 1833.2,1418.2 1834.8,1418.2 1836.3,1418.2 1837.9,1418.2 1839.5,1418.2 1841.1,1418.2 1842.7,1418.2 1844.3,1418.2 1845.9,1418.2 1847.5,1418.2 1849.1,1418.2 1850.7,1418.2 1852.3,1418.2 1853.9,1418.2 1855.4,1418.2 1857.0,1418.2 1858.6,1418.2 1860.2,1418.2 1861.8,1418.2 1863.4,1418.2 1865.0,1418.2 1866.6,1418.2 1868.2,1418.2 1869.8,1418.2 1871.4,1418.2 1873.0,1418.2 1874.6,1418.2 1876.1,1418.2 1877.7,1418.2 1879.3,1418.2 1880.9,1418.2 1882.5,1418.2 1884.1,1418.2 1885.7,1418.2 1887.3,1418.2 1888.9,1418.2 1890.5,1418.2 1892.1,1418.2 1893.7,1418.2 1895.3,1418.2 1896.8,1418.2 1898.4,1418.2 1900.0,1418.2 1901.6,1418.2 1903.2,1418.2 1904.8,1418.2 1906.4,1418.2 1908.0,1418.2 1909.6,1418.2 1911.2,1418.2 1912.8,1418.2 1914.4,1418.2 1916.0,1418.2 1917.5,1418.2 1919.1,1418.2 1920.7,1418.2 1922.3,1418.2 1923.9,1418.2 1925.5,1418.2 1927.1,1418.1 1928.7,1418.1 1930.3,1418.1 1931.9,1418.1 1933.5,1418.1 1935.1,1418.1 1936.7,1418.1 1938.2,1418.1 1939.8,1418.1 1941.4,1418.1 1943.0,1418.1 1944.6,1418.1 1946.2,1418.1 1947.8,1418.0 1949.4,1418.0 1951.0,1418.0 1952.6,1418.0 1954.2,1418.0 1955.8,1418.0 1957.4,1418.0 1958.9,1418.0 1960.5,1418.0 1962.1,1418.0 1963.7,1418.0 1965.3,1417.9 1966.9,1417.9 1968.5,1417.9 1970.1,1417.9 1971.7,1417.9 1973.3,1417.9 1974.9,1417.9 1976.5,1417.9 1978.1,1417.9 1979.6,1417.9 1981.2,1417.8 1982.8,1417.8 1984.4,1417.8 1986.0,1417.8 1987.6,1417.8 1989.2,1417.8 1990.8,1417.8 1992.4,1417.8 1994.0,1417.8 1995.6,1417.7 1997.2,1417.7 1998.8,1417.7 2000.3,1417.7 2001.9,1417.7 2003.5,1417.7 2005.1,1417.7 2006.7,1417.7 2008.3,1417.7 2009.9,1417.7 2011.5,1417.7 2013.1,1417.6 2014.7,1417.6 2016.3,1417.6 2017.9,1417.6 2019.5,1417.6 2021.0,1417.6 2022.6,1417.6 2024.2,1417.6 2025.8,1417.6 2027.4,1417.6 2029.0,1417.6 2030.6,1417.6 2032.2,1417.6 2033.8,1417.6 2035.4,1417.5 2037.0,1417.5 2038.6,1417.5 2040.2,1417.5 2041.7,1417.5 2043.3,1417.5 2044.9,1417.5 2046.5,1417.5 2048.1,1417.5 2049.7,1417.5 2051.3,1417.5 2052.9,1417.5 2054.5,1417.5 2056.1,1417.5 2057.7,1417.5 2059.3,1417.5 2060.9,1417.5 2062.4,1417.5 2064.0,1417.5 2065.6,1417.6 2067.2,1417.6 2068.8,1417.7 2070.4,1417.7 2072.0,1417.8 2073.6,1417.8 2075.2,1417.9 2076.8,1418.0 2078.4,1418.0 2080.0,1418.1 2081.5,1418.2 2083.1,1418.3 2084.7,1418.4 2086.3,1418.4 2087.9,1418.5 2089.5,1418.6 2091.1,1418.7 2092.7,1418.7 2094.3,1418.8 2095.9,1418.8 2097.5,1418.9 2099.1,1418.9 2100.7,1419.0 2102.2,1419.0 2103.8,1419.0 2105.4,1419.0 2107.0,1418.9 2108.6,1418.8 2110.2,1418.6 2111.8,1418.4 2113.4,1418.2 2115.0,1418.0 2116.6,1417.7 2118.2,1417.5 2119.8,1417.4 2121.4,1417.2 2122.9,1417.2 2124.5,1417.3 2126.1,1417.4 2127.7,1417.6 2129.3,1417.9 2130.9,1418.3 2132.5,1418.6 2134.1,1419.0 2135.7,1419.4 2137.3,1419.7 2138.9,1419.9 2140.5,1420.1 2142.1,1420.2 2143.6,1420.2 2145.2,1420.1 2146.8,1419.9 2148.4,1419.7 2150.0,1419.5 2151.6,1419.2 2153.2,1418.9 2154.8,1418.5 2156.4,1418.2 2158.0,1417.9 2159.6,1417.6 2161.2,1417.3 2162.8,1417.1 2164.3,1416.9 2165.9,1416.8 2167.5,1416.7 2169.1,1416.7 2170.7,1416.7 2172.3,1416.7 2173.9,1416.7 2175.5,1416.7 2177.1,1416.7 2178.7,1416.7 2180.3,1416.7 2181.9,1416.7 2183.5,1416.8 2185.0,1416.8 2186.6,1416.8 2188.2,1416.8 2189.8,1416.8 2191.4,1416.8 2193.0,1416.9 2194.6,1416.9 2196.2,1416.9 2197.8,1416.9 2199.4,1417.0 2201.0,1417.0 2202.6,1417.0 2204.2,1417.1 2205.7,1417.1 2207.3,1417.1 2208.9,1417.2 2210.5,1417.2 2212.1,1417.3 2213.7,1417.3 2215.3,1417.4 2216.9,1417.4 2218.5,1417.5 2220.1,1417.5 2221.7,1417.6 2223.3,1417.6 2224.9,1417.7 2226.4,1417.7 2228.0,1417.8 2229.6,1417.9 2231.2,1417.9 2232.8,1418.0 2234.4,1418.1 2236.0,1418.2 2237.6,1418.2 2239.2,1418.5 2240.8,1418.9 2242.4,1419.3 2244.0,1419.7 2245.6,1420.0 2247.1,1420.2 2248.7,1420.1 2250.3,1419.7 2251.9,1419.2 2253.5,1418.5 2255.1,1417.8 2256.7,1417.2 2258.3,1416.7 2259.9,1416.4 2261.5,1416.3 2263.1,1416.6 2264.7,1417.2 2266.3,1418.0 2267.8,1419.0 2269.4,1419.9 2271.0,1420.8 2272.6,1421.6 2274.2,1422.1 2275.8,1422.3 2277.4,1422.1 2279.0,1421.6 2280.6,1420.7 2282.2,1419.7 2283.8,1418.5 2285.4,1417.4 2286.9,1416.3 2288.5,1415.3 2290.1,1414.6 2291.7,1414.2 2293.3,1414.2 2294.9,1414.3 2296.5,1414.4 2298.1,1414.5 2299.7,1414.6 2301.3,1414.8 2302.9,1415.0 2304.5,1415.3 2306.1,1415.5 2307.6,1415.8 2309.2,1416.0 2310.8,1416.3 2312.4,1416.5 2314.0,1416.7 2315.6,1416.9 2317.2,1417.1 2318.8,1417.3 2320.4,1417.4 2322.0,1417.5 2323.6,1417.5 2325.2,1417.6 2326.8,1417.7 2328.3,1417.7 2329.9,1417.8 2331.5,1417.8 2333.1,1417.9 2334.7,1417.9 2336.3,1418.0 2337.9,1418.0 2339.5,1418.1 2341.1,1418.1 2342.7,1418.2 2344.3,1418.2 2345.9,1418.3 2347.5,1418.3 2349.0,1418.3 2350.6,1418.4 2352.2,1418.4 2353.8,1418.4 2355.4,1418.5 2357.0,1418.5 2358.6,1418.5 2360.2,1418.5 2361.8,1418.6 2363.4,1418.6 2365.0,1418.6 2366.6,1418.6 2368.2,1418.6 2369.7,1418.7 2371.3,1418.7 2372.9,1418.7 2374.5,1418.7 2376.1,1418.7 2377.7,1418.7 2379.3,1418.7"/>
</g>
<g stroke="#000" stroke-width="6.3" stroke-linecap="round" fill="none">
<rect x="468.6" y="90.6" width="1910.7" height="1411.2" stroke-linejoin="round"/>
<line x1="451" y1="1501.8" x2="468.6" y2="1501.8"/>
<line x1="434" y1="1418.8" x2="468.6" y2="1418.8"/>
<line x1="451" y1="1335.8" x2="468.6" y2="1335.8"/>
<line x1="434" y1="1252.8" x2="468.6" y2="1252.8"/>
<line x1="451" y1="1169.8" x2="468.6" y2="1169.8"/>
<line x1="434" y1="1086.8" x2="468.6" y2="1086.8"/>
<line x1="451" y1="1003.7" x2="468.6" y2="1003.7"/>
<line x1="434" y1="920.7" x2="468.6" y2="920.7"/>
<line x1="451" y1="837.7" x2="468.6" y2="837.7"/>
<line x1="434" y1="754.7" x2="468.6" y2="754.7"/>
<line x1="451" y1="671.7" x2="468.6" y2="671.7"/>
<line x1="434" y1="588.7" x2="468.6" y2="588.7"/>
<line x1="451" y1="505.7" x2="468.6" y2="505.7"/>
<line x1="434" y1="422.6" x2="468.6" y2="422.6"/>
<line x1="451" y1="339.6" x2="468.6" y2="339.6"/>
<line x1="434" y1="256.6" x2="468.6" y2="256.6"/>
<line x1="451" y1="173.6" x2="468.6" y2="173.6"/>
<line x1="434" y1="90.6" x2="468.6" y2="90.6"/>
<line x1="468.6" y1="1501.8" x2="468.6" y2="1529.6"/>
<line x1="787.1" y1="1501.8" x2="787.1" y2="1515.5"/>
<line x1="1105.5" y1="1501.8" x2="1105.5" y2="1529.6"/>
<line x1="1424.0" y1="1501.8" x2="1424.0" y2="1515.5"/>
<line x1="1742.4" y1="1501.8" x2="1742.4" y2="1529.6"/>
<line x1="2060.9" y1="1501.8" x2="2060.9" y2="1515.5"/>
<line x1="2379.3" y1="1501.8" x2="2379.3" y2="1529.6"/>
</g>
<g font-family='"Liberation Sans", Arial, Helvetica, sans-serif' fill="#000">
<g transform="translate(412.5,1445.3) scale(1,1.035)"><text x="-42.49" y="0" font-size="76.4">0</text></g>
<g transform="translate(412.5,1279.3) scale(1,1.035)"><text x="-191.19" y="0" font-size="76.4">5,000</text></g>
<g transform="translate(412.5,1113.2) scale(1,1.035)"><text x="-233.68" y="0" dx="1.83 -1.83 0.00 0.00 0.00 0.00" font-size="76.4">10,000</text><rect x="-228.54" y="-7.01" width="15.91" height="7.81" fill="#fff"/><rect x="-205.88" y="-7.01" width="15.27" height="7.81" fill="#fff"/></g>
<g transform="translate(412.5,947.2) scale(1,1.035)"><text x="-233.68" y="0" dx="1.83 -1.83 0.00 0.00 0.00 0.00" font-size="76.4">15,000</text><rect x="-228.54" y="-7.01" width="15.91" height="7.81" fill="#fff"/><rect x="-205.88" y="-7.01" width="15.27" height="7.81" fill="#fff"/></g>
<g transform="translate(412.5,781.2) scale(1,1.035)"><text x="-233.68" y="0" font-size="76.4">20,000</text></g>
<g transform="translate(412.5,615.2) scale(1,1.035)"><text x="-233.68" y="0" font-size="76.4">25,000</text></g>
<g transform="translate(412.5,449.1) scale(1,1.035)"><text x="-233.68" y="0" font-size="76.4">30,000</text></g>
<g transform="translate(412.5,283.1) scale(1,1.035)"><text x="-233.68" y="0" font-size="76.4">35,000</text></g>
<g transform="translate(412.5,117.1) scale(1,1.035)"><text x="-233.68" y="0" font-size="76.4">40,000</text></g>
<g transform="translate(468.6,1618.8) scale(1,1.03)"><text x="-24.89" y="0" font-size="89.5">4</text></g>
<g transform="translate(1103.5,1618.8) scale(1,1.03)"><text x="-24.89" y="0" font-size="89.5">6</text></g>
<g transform="translate(1742.4,1618.8) scale(1,1.03)"><text x="-24.89" y="0" font-size="89.5">8</text></g>
<g transform="translate(2379.3,1618.8) scale(1,1.03)"><text x="-49.78" y="0" dx="2.15 -2.15" font-size="89.5">10</text><rect x="-43.33" y="-7.99" width="18.21" height="8.79" fill="#fff"/><rect x="-17.22" y="-7.99" width="17.46" height="8.79" fill="#fff"/></g>
<g transform="translate(1424.5,1732.7) scale(1,1.045)"><text x="-187.11" y="0" dx="0.00 0.00 0.00 2.41 -2.41 0.00 0.00 0.00" font-size="100.5">K [1/nm]</text><rect x="-56.69" y="-8.81" width="20.14" height="9.61" fill="#fff"/><rect x="-27.67" y="-8.81" width="19.30" height="9.61" fill="#fff"/></g>
<g transform="translate(125.5,767.7) rotate(-90) scale(1,1.035)"><text x="-315.95" y="0" font-size="101.5">Intensity [a.u.]</text></g>
<g transform="translate(2323.5,212.3) scale(1,1.055)"><text x="-558.44" y="0" font-size="89.7">Position No. 5</text></g>
<g transform="translate(1725.7,370.8) scale(1,1.055)"><text x="0.00" y="0" font-size="88.9">Measured data</text></g>
<g transform="translate(1727.0,479.0) scale(1,1.055)"><text x="0.00" y="0" font-size="89.0">Fitted curve</text></g>
<g transform="translate(1727.5,588.3) scale(1,1.055)"><text x="0.00" y="0" font-size="89.0">Difference</text></g>
<g transform="translate(736.8,170.1) scale(1,1.035)"><text x="-64.65" y="0" dx="1.86 0.00 0.00" font-size="77.5">111</text><rect x="-59.40" y="-7.09" width="16.10" height="7.89" fill="#fff"/><rect x="-36.46" y="-7.09" width="15.46" height="7.89" fill="#fff"/><rect x="-16.30" y="-7.09" width="16.10" height="7.89" fill="#fff"/><rect x="6.64" y="-7.09" width="15.46" height="7.89" fill="#fff"/><rect x="26.80" y="-7.09" width="16.10" height="7.89" fill="#fff"/><rect x="49.75" y="-7.09" width="15.46" height="7.89" fill="#fff"/></g>
<g transform="translate(966.2,1168.8) scale(1,1.035)"><text x="-64.65" y="0" font-size="77.5">200</text></g>
<g transform="translate(1706.6,1179.4) scale(1,1.035)"><text x="-64.65" y="0" font-size="77.5">220</text></g>
<g transform="translate(2115.8,1167.7) scale(1,1.035)"><text x="-64.65" y="0" dx="0.00 1.86 0.00" font-size="77.5">311</text><rect x="-16.30" y="-7.09" width="16.10" height="7.89" fill="#fff"/><rect x="6.64" y="-7.09" width="15.46" height="7.89" fill="#fff"/><rect x="26.80" y="-7.09" width="16.10" height="7.89" fill="#fff"/><rect x="49.75" y="-7.09" width="15.46" height="7.89" fill="#fff"/></g>
<g transform="translate(2273.4,1128.4) scale(1,1.035)"><text x="-64.65" y="0" font-size="77.5">222</text></g>
</g>
<circle cx="1604.1" cy="341.7" r="8.9" fill="none" stroke="#0a0a0a" stroke-width="2.4"/>
<line x1="1504.5" y1="448.5" x2="1704.7" y2="448.5" stroke="#ff0000" stroke-width="4.2"/>
<line x1="1504.5" y1="557.4" x2="1704.7" y2="557.4" stroke="#0000ff" stroke-width="4.2"/>
</g>
</svg>
</body></html>
